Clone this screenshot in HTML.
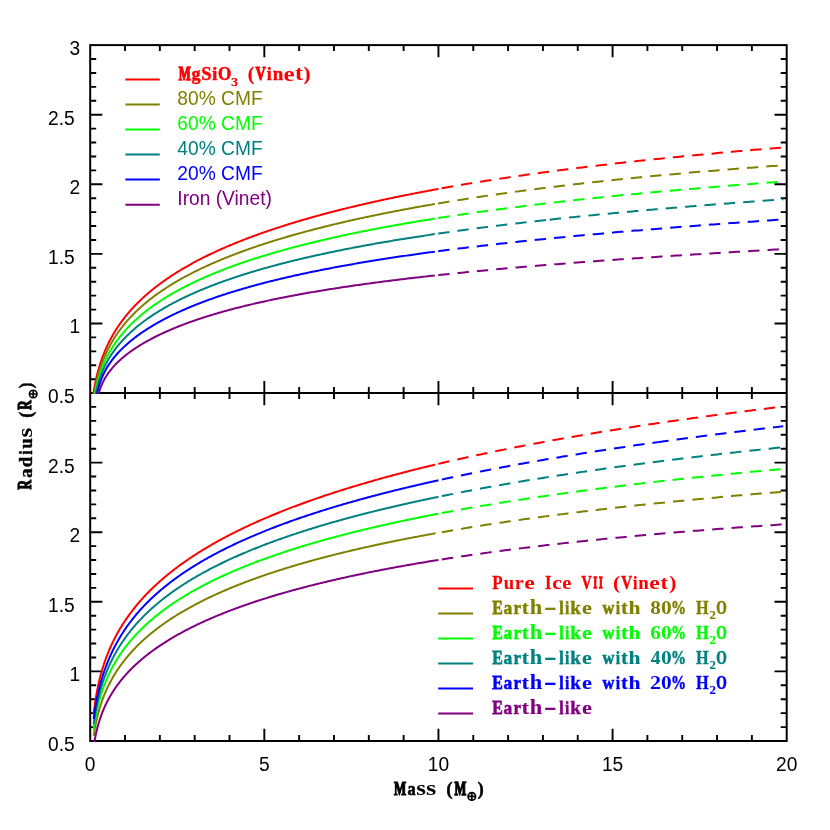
<!DOCTYPE html>
<html><head><meta charset="utf-8"><title>Mass-Radius</title>
<style>html,body{margin:0;padding:0;background:#fff}svg{display:block;will-change:transform}svg{font-family:"Liberation Sans",sans-serif}.h{font-family:"Liberation Sans",sans-serif;font-size:19.2px}.s{font-family:"Liberation Serif",serif;font-weight:bold;font-size:19.2px}.b{font-family:"Liberation Sans",sans-serif;font-weight:bold;font-size:17.6px}</style></head><body>
<svg width="830" height="830" viewBox="0 0 830 830">
<rect x="0" y="0" width="830" height="830" fill="#ffffff"/>
<defs><clipPath id="ct"><rect x="90.20" y="45.10" width="696.50" height="349.00"/></clipPath>
<clipPath id="cb"><rect x="90.20" y="393.10" width="696.50" height="348.90"/></clipPath></defs>
<g fill="none" stroke="#000" stroke-width="2.00">
<rect x="90.20" y="45.10" width="696.50" height="695.90"/>
<path d="M90.20 393.10L786.70 393.10"/>
<path stroke-width="1.9" d="M125.03 45.10L125.03 51.10 M125.03 387.10L125.03 399.10 M125.03 735.00L125.03 741.00 M159.85 45.10L159.85 51.10 M159.85 387.10L159.85 399.10 M159.85 735.00L159.85 741.00 M194.68 45.10L194.68 51.10 M194.68 387.10L194.68 399.10 M194.68 735.00L194.68 741.00 M229.50 45.10L229.50 51.10 M229.50 387.10L229.50 399.10 M229.50 735.00L229.50 741.00 M264.32 45.10L264.32 57.30 M264.32 380.90L264.32 405.30 M264.32 728.80L264.32 741.00 M299.15 45.10L299.15 51.10 M299.15 387.10L299.15 399.10 M299.15 735.00L299.15 741.00 M333.98 45.10L333.98 51.10 M333.98 387.10L333.98 399.10 M333.98 735.00L333.98 741.00 M368.80 45.10L368.80 51.10 M368.80 387.10L368.80 399.10 M368.80 735.00L368.80 741.00 M403.62 45.10L403.62 51.10 M403.62 387.10L403.62 399.10 M403.62 735.00L403.62 741.00 M438.45 45.10L438.45 57.30 M438.45 380.90L438.45 405.30 M438.45 728.80L438.45 741.00 M473.28 45.10L473.28 51.10 M473.28 387.10L473.28 399.10 M473.28 735.00L473.28 741.00 M508.10 45.10L508.10 51.10 M508.10 387.10L508.10 399.10 M508.10 735.00L508.10 741.00 M542.93 45.10L542.93 51.10 M542.93 387.10L542.93 399.10 M542.93 735.00L542.93 741.00 M577.75 45.10L577.75 51.10 M577.75 387.10L577.75 399.10 M577.75 735.00L577.75 741.00 M612.58 45.10L612.58 57.30 M612.58 380.90L612.58 405.30 M612.58 728.80L612.58 741.00 M647.40 45.10L647.40 51.10 M647.40 387.10L647.40 399.10 M647.40 735.00L647.40 741.00 M682.23 45.10L682.23 51.10 M682.23 387.10L682.23 399.10 M682.23 735.00L682.23 741.00 M717.05 45.10L717.05 51.10 M717.05 387.10L717.05 399.10 M717.05 735.00L717.05 741.00 M751.88 45.10L751.88 51.10 M751.88 387.10L751.88 399.10 M751.88 735.00L751.88 741.00 M90.20 379.18L96.20 379.18 M780.70 379.18L786.70 379.18 M90.20 365.26L96.20 365.26 M780.70 365.26L786.70 365.26 M90.20 351.34L96.20 351.34 M780.70 351.34L786.70 351.34 M90.20 337.42L96.20 337.42 M780.70 337.42L786.70 337.42 M90.20 323.50L102.40 323.50 M774.50 323.50L786.70 323.50 M90.20 309.58L96.20 309.58 M780.70 309.58L786.70 309.58 M90.20 295.66L96.20 295.66 M780.70 295.66L786.70 295.66 M90.20 281.74L96.20 281.74 M780.70 281.74L786.70 281.74 M90.20 267.82L96.20 267.82 M780.70 267.82L786.70 267.82 M90.20 253.90L102.40 253.90 M774.50 253.90L786.70 253.90 M90.20 239.98L96.20 239.98 M780.70 239.98L786.70 239.98 M90.20 226.06L96.20 226.06 M780.70 226.06L786.70 226.06 M90.20 212.14L96.20 212.14 M780.70 212.14L786.70 212.14 M90.20 198.22L96.20 198.22 M780.70 198.22L786.70 198.22 M90.20 184.30L102.40 184.30 M774.50 184.30L786.70 184.30 M90.20 170.38L96.20 170.38 M780.70 170.38L786.70 170.38 M90.20 156.46L96.20 156.46 M780.70 156.46L786.70 156.46 M90.20 142.54L96.20 142.54 M780.70 142.54L786.70 142.54 M90.20 128.62L96.20 128.62 M780.70 128.62L786.70 128.62 M90.20 114.70L102.40 114.70 M774.50 114.70L786.70 114.70 M90.20 100.78L96.20 100.78 M780.70 100.78L786.70 100.78 M90.20 86.86L96.20 86.86 M780.70 86.86L786.70 86.86 M90.20 72.94L96.20 72.94 M780.70 72.94L786.70 72.94 M90.20 59.02L96.20 59.02 M780.70 59.02L786.70 59.02 M90.20 727.08L96.20 727.08 M780.70 727.08L786.70 727.08 M90.20 713.16L96.20 713.16 M780.70 713.16L786.70 713.16 M90.20 699.24L96.20 699.24 M780.70 699.24L786.70 699.24 M90.20 685.32L96.20 685.32 M780.70 685.32L786.70 685.32 M90.20 671.40L102.40 671.40 M774.50 671.40L786.70 671.40 M90.20 657.48L96.20 657.48 M780.70 657.48L786.70 657.48 M90.20 643.56L96.20 643.56 M780.70 643.56L786.70 643.56 M90.20 629.64L96.20 629.64 M780.70 629.64L786.70 629.64 M90.20 615.72L96.20 615.72 M780.70 615.72L786.70 615.72 M90.20 601.80L102.40 601.80 M774.50 601.80L786.70 601.80 M90.20 587.88L96.20 587.88 M780.70 587.88L786.70 587.88 M90.20 573.96L96.20 573.96 M780.70 573.96L786.70 573.96 M90.20 560.04L96.20 560.04 M780.70 560.04L786.70 560.04 M90.20 546.12L96.20 546.12 M780.70 546.12L786.70 546.12 M90.20 532.20L102.40 532.20 M774.50 532.20L786.70 532.20 M90.20 518.28L96.20 518.28 M780.70 518.28L786.70 518.28 M90.20 504.36L96.20 504.36 M780.70 504.36L786.70 504.36 M90.20 490.44L96.20 490.44 M780.70 490.44L786.70 490.44 M90.20 476.52L96.20 476.52 M780.70 476.52L786.70 476.52 M90.20 462.60L102.40 462.60 M774.50 462.60L786.70 462.60 M90.20 448.68L96.20 448.68 M780.70 448.68L786.70 448.68 M90.20 434.76L96.20 434.76 M780.70 434.76L786.70 434.76 M90.20 420.84L96.20 420.84 M780.70 420.84L786.70 420.84 M90.20 406.92L96.20 406.92 M780.70 406.92L786.70 406.92"/>
</g>
<g fill="none" stroke-width="2" stroke-linejoin="round" clip-path="url(#ct)">
<path stroke="#ff0000" d="M91.94 404.30 L91.94 404.29 L91.95 404.23 L91.96 404.13 L91.98 404.00 L92.00 403.83 L92.02 403.63 L92.05 403.39 L92.08 403.11 L92.12 402.80 L92.16 402.45 L92.20 402.08 L92.25 401.67 L92.31 401.23 L92.37 400.76 L92.43 400.27 L92.50 399.74 L92.57 399.19 L92.65 398.62 L92.73 398.03 L92.81 397.41 L92.90 396.77 L93.00 396.11 L93.09 395.44 L93.20 394.74 L93.30 394.04 L93.41 393.31 L93.53 392.58 L93.65 391.83 L93.77 391.07 L93.90 390.29 L94.03 389.51 L94.17 388.72 L94.31 387.92 L94.46 387.12 L94.61 386.30 L94.76 385.49 L94.92 384.66 L95.09 383.83 L95.25 383.00 L95.43 382.16 L95.60 381.32 L95.78 380.48 L95.97 379.63 L96.16 378.78 L96.35 377.93 L96.55 377.08 L96.75 376.23 L96.96 375.38 L97.17 374.53 L97.38 373.67 L97.60 372.82 L97.83 371.97 L98.06 371.12 L98.29 370.27 L98.53 369.42 L98.77 368.57 L99.02 367.72 L99.27 366.87 L99.52 366.03 L99.78 365.19 L100.04 364.34 L100.31 363.51 L100.58 362.67 L100.86 361.83 L101.14 361.00 L101.43 360.17 L101.72 359.34 L102.01 358.52 L102.31 357.69 L102.61 356.87 L102.92 356.05 L103.23 355.24 L103.55 354.42 L103.87 353.61 L104.19 352.81 L104.52 352.00 L104.85 351.20 L105.19 350.40 L105.53 349.60 L105.88 348.81 L106.23 348.01 L106.58 347.23 L106.94 346.44 L107.31 345.66 L107.67 344.88 L108.05 344.10 L108.42 343.32 L108.80 342.55 L109.19 341.78 L109.58 341.02 L109.97 340.25 L110.37 339.49 L110.77 338.73 L111.18 337.98 L111.59 337.23 L112.01 336.48 L112.43 335.73 L112.85 334.99 L113.28 334.24 L113.72 333.51 L114.15 332.77 L114.60 332.04 L115.04 331.31 L115.49 330.58 L115.95 329.85 L116.41 329.13 L116.87 328.41 L117.34 327.69 L117.81 326.98 L118.29 326.27 L118.77 325.56 L119.26 324.85 L119.75 324.15 L120.24 323.44 L120.74 322.74 L121.24 322.05 L121.75 321.35 L122.26 320.66 L122.78 319.97 L123.30 319.29 L123.82 318.60 L124.35 317.92 L124.88 317.24 L125.42 316.56 L125.96 315.89 L126.51 315.21 L127.06 314.54 L127.62 313.88 L128.18 313.21 L128.74 312.55 L129.31 311.89 L129.88 311.23 L130.46 310.57 L131.04 309.92 L131.63 309.26 L132.22 308.61 L132.81 307.97 L133.41 307.32 L134.01 306.68 L134.62 306.04 L135.23 305.40 L135.85 304.76 L136.47 304.13 L137.09 303.49 L137.72 302.86 L138.36 302.23 L138.99 301.61 L139.64 300.98 L140.28 300.36 L140.93 299.74 L141.59 299.12 L142.25 298.51 L142.91 297.89 L143.58 297.28 L144.26 296.67 L144.93 296.06 L145.61 295.45 L146.30 294.85 L146.99 294.25 L147.69 293.65 L148.38 293.05 L149.09 292.45 L149.80 291.85 L150.51 291.26 L151.22 290.67 L151.94 290.08 L152.67 289.49 L153.40 288.91 L154.13 288.32 L154.87 287.74 L155.61 287.16 L156.36 286.58 L157.11 286.00 L157.87 285.43 L158.63 284.85 L159.39 284.28 L160.16 283.71 L160.93 283.14 L161.71 282.58 L162.49 282.01 L163.28 281.45 L164.07 280.89 L164.86 280.33 L165.66 279.77 L166.47 279.21 L167.27 278.66 L168.09 278.10 L168.90 277.55 L169.72 277.00 L170.55 276.45 L171.38 275.91 L172.21 275.36 L173.05 274.82 L173.89 274.27 L174.74 273.73 L175.59 273.19 L176.45 272.66 L177.31 272.12 L178.17 271.59 L179.04 271.05 L179.91 270.52 L180.79 269.99 L181.67 269.46 L182.56 268.94 L183.45 268.41 L184.35 267.89 L185.24 267.36 L186.15 266.84 L187.06 266.32 L187.97 265.80 L188.89 265.29 L189.81 264.77 L190.73 264.26 L191.66 263.75 L192.60 263.23 L193.53 262.73 L194.48 262.22 L195.42 261.71 L196.38 261.21 L197.33 260.70 L198.29 260.20 L199.26 259.70 L200.23 259.20 L201.20 258.70 L202.18 258.20 L203.16 257.71 L204.15 257.21 L205.14 256.72 L206.13 256.23 L207.13 255.74 L208.13 255.25 L209.14 254.76 L210.16 254.27 L211.17 253.79 L212.19 253.30 L213.22 252.82 L214.25 252.34 L215.28 251.86 L216.32 251.38 L217.36 250.91 L218.41 250.43 L219.46 249.95 L220.52 249.48 L221.58 249.01 L222.65 248.54 L223.71 248.07 L224.79 247.60 L225.87 247.13 L226.95 246.67 L228.03 246.20 L229.13 245.74 L230.22 245.28 L231.32 244.82 L232.42 244.36 L233.53 243.90 L234.65 243.44 L235.76 242.98 L236.88 242.53 L238.01 242.07 L239.14 241.62 L240.27 241.17 L241.41 240.72 L242.56 240.27 L243.70 239.82 L244.86 239.38 L246.01 238.93 L247.17 238.49 L248.34 238.04 L249.51 237.60 L250.68 237.16 L251.86 236.72 L253.04 236.28 L254.23 235.84 L255.42 235.41 L256.61 234.97 L257.81 234.54 L259.02 234.11 L260.23 233.67 L261.44 233.24 L262.66 232.81 L263.88 232.39 L265.10 231.96 L266.33 231.53 L267.57 231.11 L268.81 230.68 L270.05 230.26 L271.30 229.84 L272.55 229.42 L273.81 229.00 L275.07 228.58 L276.33 228.16 L277.60 227.75 L278.88 227.33 L280.15 226.92 L281.44 226.50 L282.72 226.09 L284.02 225.68 L285.31 225.27 L286.61 224.86 L287.92 224.45 L289.22 224.05 L290.54 223.64 L291.85 223.24 L293.18 222.83 L294.50 222.43 L295.83 222.03 L297.17 221.63 L298.51 221.23 L299.85 220.83 L301.20 220.43 L302.55 220.03 L303.91 219.64 L305.27 219.24 L306.63 218.85 L308.00 218.46 L309.38 218.07 L310.76 217.68 L312.14 217.29 L313.52 216.90 L314.92 216.51 L316.31 216.13 L317.71 215.74 L319.12 215.36 L320.53 214.97 L321.94 214.59 L323.36 214.21 L324.78 213.83 L326.20 213.45 L327.64 213.07 L329.07 212.69 L330.51 212.32 L331.95 211.94 L333.40 211.57 L334.85 211.19 L336.31 210.82 L337.77 210.45 L339.24 210.08 L340.71 209.71 L342.18 209.34 L343.66 208.97 L345.14 208.60 L346.63 208.24 L348.12 207.87 L349.62 207.51 L351.12 207.15 L352.62 206.78 L354.13 206.42 L355.64 206.06 L357.16 205.70 L358.68 205.34 L360.21 204.99 L361.74 204.63 L363.28 204.27 L364.82 203.92 L366.36 203.57 L367.91 203.21 L369.46 202.86 L371.02 202.51 L372.58 202.16 L374.14 201.81 L375.71 201.46 L377.29 201.12 L378.87 200.77 L380.45 200.42 L382.04 200.08 L383.63 199.73 L385.23 199.39 L386.83 199.05 L388.43 198.71 L390.04 198.37 L391.65 198.03 L393.27 197.69 L394.89 197.35 L396.52 197.02 L398.15 196.68 L399.79 196.35 L401.43 196.01 L403.07 195.68 L404.72 195.35 L406.37 195.02 L408.03 194.68 L409.69 194.36 L411.36 194.03 L413.03 193.70 L414.70 193.37 L416.38 193.05 L418.06 192.72 L419.75 192.40 L421.44 192.07 L423.14 191.75 L424.84 191.43 L426.54 191.11 L428.25 190.79 L429.97 190.47 L431.68 190.15 L433.41 189.83 L435.13 189.51 L436.86 189.20 L438.60 188.88"/>
<path stroke="#ff0000" stroke-dasharray="11.4 8.03" d="M441.80 188.31 L444.67 187.79 L447.54 187.29 L450.41 186.78 L453.28 186.28 L456.15 185.79 L459.01 185.30 L461.88 184.81 L464.75 184.33 L467.62 183.85 L470.49 183.37 L473.36 182.90 L476.23 182.43 L479.10 181.97 L481.97 181.51 L484.84 181.05 L487.70 180.60 L490.57 180.15 L493.44 179.70 L496.31 179.26 L499.18 178.82 L502.05 178.38 L504.92 177.95 L507.79 177.52 L510.66 177.09 L513.53 176.67 L516.40 176.25 L519.26 175.83 L522.13 175.42 L525.00 175.01 L527.87 174.60 L530.74 174.20 L533.61 173.80 L536.48 173.40 L539.35 173.00 L542.22 172.61 L545.09 172.22 L547.96 171.83 L550.82 171.45 L553.69 171.07 L556.56 170.69 L559.43 170.31 L562.30 169.94 L565.17 169.57 L568.04 169.20 L570.91 168.84 L573.78 168.47 L576.65 168.11 L579.51 167.76 L582.38 167.40 L585.25 167.05 L588.12 166.70 L590.99 166.35 L593.86 166.00 L596.73 165.66 L599.60 165.32 L602.47 164.98 L605.34 164.65 L608.21 164.31 L611.07 163.98 L613.94 163.65 L616.81 163.32 L619.68 163.00 L622.55 162.68 L625.42 162.35 L628.29 162.04 L631.16 161.72 L634.03 161.40 L636.90 161.09 L639.76 160.78 L642.63 160.47 L645.50 160.17 L648.37 159.86 L651.24 159.56 L654.11 159.26 L656.98 158.96 L659.85 158.66 L662.72 158.37 L665.59 158.08 L668.46 157.79 L671.32 157.50 L674.19 157.21 L677.06 156.93 L679.93 156.64 L682.80 156.36 L685.67 156.08 L688.54 155.80 L691.41 155.53 L694.28 155.25 L697.15 154.98 L700.01 154.71 L702.88 154.44 L705.75 154.17 L708.62 153.90 L711.49 153.64 L714.36 153.38 L717.23 153.11 L720.10 152.85 L722.97 152.60 L725.84 152.34 L728.71 152.09 L731.57 151.83 L734.44 151.58 L737.31 151.33 L740.18 151.08 L743.05 150.83 L745.92 150.59 L748.79 150.34 L751.66 150.10 L754.53 149.86 L757.40 149.62 L760.27 149.38 L763.13 149.15 L766.00 148.91 L768.87 148.68 L771.74 148.44 L774.61 148.21 L777.48 147.98 L780.35 147.75 L783.22 147.53"/>
<path stroke="#808000" d="M91.94 409.29 L91.94 409.27 L91.95 409.22 L91.96 409.12 L91.98 408.99 L92.00 408.82 L92.02 408.62 L92.05 408.38 L92.08 408.10 L92.12 407.79 L92.16 407.45 L92.20 407.07 L92.25 406.66 L92.31 406.22 L92.36 405.76 L92.43 405.26 L92.49 404.73 L92.56 404.19 L92.64 403.61 L92.72 403.01 L92.80 402.39 L92.89 401.75 L92.98 401.09 L93.08 400.42 L93.18 399.72 L93.29 399.01 L93.40 398.29 L93.51 397.55 L93.63 396.79 L93.75 396.03 L93.88 395.26 L94.01 394.47 L94.15 393.68 L94.29 392.88 L94.43 392.07 L94.58 391.26 L94.73 390.44 L94.89 389.61 L95.05 388.78 L95.22 387.95 L95.39 387.11 L95.56 386.27 L95.74 385.43 L95.92 384.59 L96.11 383.74 L96.30 382.89 L96.50 382.05 L96.70 381.20 L96.90 380.35 L97.11 379.50 L97.33 378.66 L97.54 377.81 L97.76 376.97 L97.99 376.12 L98.22 375.28 L98.46 374.44 L98.70 373.60 L98.94 372.76 L99.19 371.93 L99.44 371.09 L99.69 370.26 L99.95 369.43 L100.22 368.61 L100.49 367.78 L100.76 366.96 L101.04 366.14 L101.32 365.33 L101.61 364.52 L101.90 363.71 L102.19 362.90 L102.49 362.10 L102.80 361.30 L103.11 360.50 L103.42 359.71 L103.73 358.92 L104.06 358.13 L104.38 357.35 L104.71 356.56 L105.04 355.79 L105.38 355.01 L105.72 354.24 L106.07 353.47 L106.42 352.71 L106.78 351.95 L107.14 351.19 L107.50 350.43 L107.87 349.68 L108.24 348.93 L108.62 348.19 L109.00 347.45 L109.39 346.71 L109.78 345.97 L110.17 345.24 L110.57 344.51 L110.97 343.78 L111.38 343.06 L111.79 342.34 L112.20 341.62 L112.62 340.91 L113.05 340.20 L113.48 339.49 L113.91 338.78 L114.35 338.08 L114.79 337.38 L115.23 336.69 L115.68 335.99 L116.14 335.30 L116.60 334.62 L117.06 333.93 L117.53 333.25 L118.00 332.57 L118.48 331.90 L118.96 331.22 L119.44 330.55 L119.93 329.89 L120.42 329.22 L120.92 328.56 L121.42 327.90 L121.93 327.24 L122.44 326.59 L122.95 325.94 L123.47 325.29 L124.00 324.64 L124.52 324.00 L125.06 323.35 L125.59 322.72 L126.13 322.08 L126.68 321.44 L127.23 320.81 L127.78 320.18 L128.34 319.56 L128.90 318.93 L129.47 318.31 L130.04 317.69 L130.61 317.07 L131.19 316.46 L131.77 315.85 L132.36 315.23 L132.95 314.63 L133.55 314.02 L134.15 313.42 L134.76 312.81 L135.37 312.21 L135.98 311.62 L136.60 311.02 L137.22 310.43 L137.85 309.84 L138.48 309.25 L139.11 308.66 L139.75 308.08 L140.40 307.49 L141.05 306.91 L141.70 306.33 L142.36 305.76 L143.02 305.18 L143.68 304.61 L144.35 304.04 L145.03 303.47 L145.70 302.90 L146.39 302.34 L147.07 301.78 L147.77 301.21 L148.46 300.65 L149.16 300.10 L149.87 299.54 L150.57 298.99 L151.29 298.44 L152.00 297.88 L152.73 297.34 L153.45 296.79 L154.18 296.24 L154.92 295.70 L155.65 295.16 L156.40 294.62 L157.14 294.08 L157.90 293.55 L158.65 293.01 L159.41 292.48 L160.18 291.95 L160.95 291.42 L161.72 290.89 L162.50 290.36 L163.28 289.84 L164.06 289.31 L164.85 288.79 L165.65 288.27 L166.45 287.75 L167.25 287.24 L168.06 286.72 L168.87 286.21 L169.69 285.70 L170.51 285.19 L171.33 284.68 L172.16 284.17 L172.99 283.66 L173.83 283.16 L174.67 282.65 L175.52 282.15 L176.37 281.65 L177.23 281.15 L178.09 280.66 L178.95 280.16 L179.82 279.67 L180.69 279.17 L181.57 278.68 L182.45 278.19 L183.33 277.70 L184.22 277.22 L185.12 276.73 L186.01 276.25 L186.92 275.76 L187.82 275.28 L188.73 274.80 L189.65 274.32 L190.57 273.84 L191.49 273.37 L192.42 272.89 L193.35 272.42 L194.29 271.95 L195.23 271.48 L196.18 271.01 L197.13 270.54 L198.08 270.07 L199.04 269.60 L200.00 269.14 L200.97 268.68 L201.94 268.21 L202.92 267.75 L203.90 267.29 L204.88 266.84 L205.87 266.38 L206.86 265.92 L207.86 265.47 L208.86 265.02 L209.86 264.56 L210.88 264.11 L211.89 263.66 L212.91 263.21 L213.93 262.77 L214.96 262.32 L215.99 261.88 L217.03 261.43 L218.07 260.99 L219.11 260.55 L220.16 260.11 L221.21 259.67 L222.27 259.23 L223.33 258.80 L224.40 258.36 L225.47 257.93 L226.54 257.49 L227.62 257.06 L228.70 256.63 L229.79 256.20 L230.88 255.77 L231.98 255.34 L233.08 254.92 L234.19 254.49 L235.29 254.07 L236.41 253.65 L237.53 253.22 L238.65 252.80 L239.77 252.38 L240.91 251.96 L242.04 251.55 L243.18 251.13 L244.32 250.72 L245.47 250.30 L246.62 249.89 L247.78 249.48 L248.94 249.06 L250.11 248.65 L251.27 248.25 L252.45 247.84 L253.63 247.43 L254.81 247.03 L256.00 246.62 L257.19 246.22 L258.38 245.81 L259.58 245.41 L260.79 245.01 L261.99 244.61 L263.21 244.21 L264.42 243.82 L265.64 243.42 L266.87 243.03 L268.10 242.63 L269.33 242.24 L270.57 241.84 L271.81 241.45 L273.06 241.06 L274.31 240.67 L275.57 240.29 L276.83 239.90 L278.09 239.51 L279.36 239.13 L280.63 238.74 L281.91 238.36 L283.19 237.98 L284.48 237.59 L285.77 237.21 L287.06 236.83 L288.36 236.46 L289.66 236.08 L290.97 235.70 L292.28 235.33 L293.60 234.95 L294.92 234.58 L296.24 234.20 L297.57 233.83 L298.90 233.46 L300.24 233.09 L301.58 232.72 L302.93 232.35 L304.28 231.99 L305.63 231.62 L306.99 231.26 L308.36 230.89 L309.72 230.53 L311.10 230.17 L312.47 229.80 L313.85 229.44 L315.24 229.08 L316.63 228.73 L318.02 228.37 L319.42 228.01 L320.82 227.66 L322.23 227.30 L323.64 226.95 L325.05 226.59 L326.47 226.24 L327.89 225.89 L329.32 225.54 L330.75 225.19 L332.19 224.84 L333.63 224.49 L335.08 224.15 L336.53 223.80 L337.98 223.45 L339.44 223.11 L340.90 222.77 L342.37 222.42 L343.84 222.08 L345.31 221.74 L346.79 221.40 L348.28 221.06 L349.76 220.73 L351.26 220.39 L352.75 220.05 L354.25 219.72 L355.76 219.38 L357.27 219.05 L358.78 218.72 L360.30 218.38 L361.82 218.05 L363.35 217.72 L364.88 217.39 L366.42 217.06 L367.96 216.74 L369.50 216.41 L371.05 216.08 L372.60 215.76 L374.16 215.43 L375.72 215.11 L377.29 214.79 L378.86 214.47 L380.43 214.15 L382.01 213.83 L383.59 213.51 L385.18 213.19 L386.77 212.87 L388.37 212.55 L389.97 212.24 L391.57 211.92 L393.18 211.61 L394.79 211.30 L396.41 210.98 L398.03 210.67 L399.66 210.36 L401.29 210.05 L402.92 209.74 L404.56 209.43 L406.21 209.13 L407.85 208.82 L409.51 208.51 L411.16 208.21 L412.82 207.90 L414.49 207.60 L416.16 207.30 L417.83 207.00 L419.51 206.70 L421.19 206.39 L422.88 206.10 L424.57 205.80 L426.26 205.50 L427.96 205.20 L429.66 204.91 L431.37 204.61 L433.08 204.32 L434.80 204.02"/>
<path stroke="#808000" stroke-dasharray="11.4 8.03" d="M438.20 203.45 L441.10 202.96 L444.00 202.47 L446.90 202.00 L449.80 201.52 L452.70 201.05 L455.60 200.58 L458.50 200.12 L461.39 199.66 L464.29 199.20 L467.19 198.75 L470.09 198.31 L472.99 197.86 L475.89 197.42 L478.79 196.98 L481.69 196.55 L484.59 196.12 L487.49 195.70 L490.39 195.27 L493.29 194.85 L496.19 194.44 L499.09 194.02 L501.98 193.62 L504.88 193.21 L507.78 192.81 L510.68 192.41 L513.58 192.01 L516.48 191.62 L519.38 191.23 L522.28 190.84 L525.18 190.46 L528.08 190.07 L530.98 189.70 L533.88 189.32 L536.78 188.95 L539.68 188.58 L542.58 188.21 L545.47 187.85 L548.37 187.48 L551.27 187.13 L554.17 186.77 L557.07 186.42 L559.97 186.06 L562.87 185.72 L565.77 185.37 L568.67 185.03 L571.57 184.69 L574.47 184.35 L577.37 184.01 L580.27 183.68 L583.17 183.35 L586.06 183.02 L588.96 182.69 L591.86 182.37 L594.76 182.05 L597.66 181.73 L600.56 181.41 L603.46 181.10 L606.36 180.79 L609.26 180.48 L612.16 180.17 L615.06 179.86 L617.96 179.56 L620.86 179.26 L623.76 178.96 L626.65 178.66 L629.55 178.37 L632.45 178.08 L635.35 177.78 L638.25 177.50 L641.15 177.21 L644.05 176.92 L646.95 176.64 L649.85 176.36 L652.75 176.08 L655.65 175.80 L658.55 175.53 L661.45 175.26 L664.35 174.98 L667.25 174.71 L670.14 174.45 L673.04 174.18 L675.94 173.92 L678.84 173.65 L681.74 173.39 L684.64 173.13 L687.54 172.88 L690.44 172.62 L693.34 172.37 L696.24 172.12 L699.14 171.87 L702.04 171.62 L704.94 171.37 L707.84 171.13 L710.73 170.88 L713.63 170.64 L716.53 170.40 L719.43 170.16 L722.33 169.92 L725.23 169.69 L728.13 169.45 L731.03 169.22 L733.93 168.99 L736.83 168.76 L739.73 168.53 L742.63 168.31 L745.53 168.08 L748.43 167.86 L751.33 167.64 L754.22 167.42 L757.12 167.20 L760.02 166.98 L762.92 166.76 L765.82 166.55 L768.72 166.34 L771.62 166.12 L774.52 165.91 L777.42 165.70 L780.32 165.50 L783.22 165.29"/>
<path stroke="#00ff00" d="M91.94 418.69 L91.94 418.66 L91.95 418.57 L91.96 418.43 L91.98 418.23 L92.00 417.97 L92.02 417.66 L92.05 417.29 L92.08 416.88 L92.12 416.42 L92.16 415.91 L92.20 415.36 L92.25 414.77 L92.31 414.15 L92.36 413.49 L92.43 412.80 L92.49 412.08 L92.56 411.33 L92.64 410.56 L92.72 409.77 L92.80 408.96 L92.89 408.14 L92.98 407.29 L93.08 406.44 L93.18 405.58 L93.29 404.71 L93.40 403.83 L93.51 402.94 L93.63 402.05 L93.75 401.15 L93.88 400.26 L94.01 399.36 L94.15 398.46 L94.29 397.56 L94.43 396.66 L94.58 395.76 L94.73 394.86 L94.89 393.97 L95.05 393.07 L95.22 392.18 L95.39 391.30 L95.56 390.42 L95.74 389.54 L95.92 388.66 L96.11 387.79 L96.30 386.93 L96.50 386.06 L96.70 385.21 L96.90 384.35 L97.11 383.50 L97.33 382.66 L97.54 381.82 L97.76 380.98 L97.99 380.15 L98.22 379.33 L98.46 378.51 L98.70 377.69 L98.94 376.88 L99.19 376.07 L99.44 375.27 L99.69 374.47 L99.95 373.68 L100.22 372.89 L100.49 372.11 L100.76 371.32 L101.04 370.55 L101.32 369.78 L101.61 369.01 L101.90 368.24 L102.19 367.48 L102.49 366.73 L102.80 365.98 L103.11 365.23 L103.42 364.48 L103.73 363.74 L104.06 363.01 L104.38 362.27 L104.71 361.54 L105.04 360.82 L105.38 360.10 L105.72 359.38 L106.07 358.66 L106.42 357.95 L106.78 357.24 L107.14 356.54 L107.50 355.83 L107.87 355.14 L108.24 354.44 L108.62 353.75 L109.00 353.06 L109.39 352.37 L109.78 351.69 L110.17 351.01 L110.57 350.33 L110.97 349.66 L111.38 348.98 L111.79 348.32 L112.20 347.65 L112.62 346.99 L113.05 346.33 L113.48 345.67 L113.91 345.01 L114.35 344.36 L114.79 343.71 L115.23 343.06 L115.68 342.42 L116.14 341.78 L116.60 341.14 L117.06 340.50 L117.53 339.87 L118.00 339.23 L118.48 338.60 L118.96 337.98 L119.44 337.35 L119.93 336.73 L120.42 336.11 L120.92 335.49 L121.42 334.88 L121.93 334.26 L122.44 333.65 L122.95 333.04 L123.47 332.44 L124.00 331.83 L124.52 331.23 L125.06 330.63 L125.59 330.03 L126.13 329.44 L126.68 328.84 L127.23 328.25 L127.78 327.66 L128.34 327.07 L128.90 326.49 L129.47 325.90 L130.04 325.32 L130.61 324.74 L131.19 324.16 L131.77 323.59 L132.36 323.02 L132.95 322.44 L133.55 321.87 L134.15 321.31 L134.76 320.74 L135.37 320.18 L135.98 319.61 L136.60 319.05 L137.22 318.49 L137.85 317.94 L138.48 317.38 L139.11 316.83 L139.75 316.28 L140.40 315.73 L141.05 315.18 L141.70 314.64 L142.36 314.09 L143.02 313.55 L143.68 313.01 L144.35 312.47 L145.03 311.93 L145.70 311.40 L146.39 310.86 L147.07 310.33 L147.77 309.80 L148.46 309.27 L149.16 308.74 L149.87 308.22 L150.57 307.69 L151.29 307.17 L152.00 306.65 L152.73 306.13 L153.45 305.61 L154.18 305.10 L154.92 304.58 L155.65 304.07 L156.40 303.56 L157.14 303.05 L157.90 302.54 L158.65 302.04 L159.41 301.53 L160.18 301.03 L160.95 300.53 L161.72 300.03 L162.50 299.53 L163.28 299.03 L164.06 298.54 L164.85 298.04 L165.65 297.55 L166.45 297.06 L167.25 296.57 L168.06 296.08 L168.87 295.59 L169.69 295.11 L170.51 294.62 L171.33 294.14 L172.16 293.66 L172.99 293.18 L173.83 292.70 L174.67 292.23 L175.52 291.75 L176.37 291.28 L177.23 290.80 L178.09 290.33 L178.95 289.86 L179.82 289.39 L180.69 288.93 L181.57 288.46 L182.45 288.00 L183.33 287.53 L184.22 287.07 L185.12 286.61 L186.01 286.15 L186.92 285.70 L187.82 285.24 L188.73 284.79 L189.65 284.33 L190.57 283.88 L191.49 283.43 L192.42 282.98 L193.35 282.53 L194.29 282.08 L195.23 281.64 L196.18 281.19 L197.13 280.75 L198.08 280.31 L199.04 279.87 L200.00 279.43 L200.97 278.99 L201.94 278.55 L202.92 278.12 L203.90 277.68 L204.88 277.25 L205.87 276.82 L206.86 276.39 L207.86 275.96 L208.86 275.53 L209.86 275.10 L210.88 274.68 L211.89 274.25 L212.91 273.83 L213.93 273.41 L214.96 272.99 L215.99 272.57 L217.03 272.15 L218.07 271.73 L219.11 271.31 L220.16 270.90 L221.21 270.48 L222.27 270.07 L223.33 269.66 L224.40 269.25 L225.47 268.84 L226.54 268.43 L227.62 268.03 L228.70 267.62 L229.79 267.22 L230.88 266.81 L231.98 266.41 L233.08 266.01 L234.19 265.61 L235.29 265.21 L236.41 264.81 L237.53 264.41 L238.65 264.02 L239.77 263.62 L240.91 263.23 L242.04 262.84 L243.18 262.45 L244.32 262.06 L245.47 261.67 L246.62 261.28 L247.78 260.89 L248.94 260.51 L250.11 260.12 L251.27 259.74 L252.45 259.36 L253.63 258.97 L254.81 258.59 L256.00 258.21 L257.19 257.84 L258.38 257.46 L259.58 257.08 L260.79 256.71 L261.99 256.33 L263.21 255.96 L264.42 255.59 L265.64 255.21 L266.87 254.84 L268.10 254.48 L269.33 254.11 L270.57 253.74 L271.81 253.37 L273.06 253.01 L274.31 252.64 L275.57 252.28 L276.83 251.92 L278.09 251.56 L279.36 251.20 L280.63 250.84 L281.91 250.48 L283.19 250.12 L284.48 249.77 L285.77 249.41 L287.06 249.06 L288.36 248.70 L289.66 248.35 L290.97 248.00 L292.28 247.65 L293.60 247.30 L294.92 246.95 L296.24 246.60 L297.57 246.26 L298.90 245.91 L300.24 245.57 L301.58 245.22 L302.93 244.88 L304.28 244.54 L305.63 244.20 L306.99 243.86 L308.36 243.52 L309.72 243.18 L311.10 242.84 L312.47 242.51 L313.85 242.17 L315.24 241.84 L316.63 241.50 L318.02 241.17 L319.42 240.84 L320.82 240.51 L322.23 240.18 L323.64 239.85 L325.05 239.52 L326.47 239.19 L327.89 238.86 L329.32 238.54 L330.75 238.21 L332.19 237.89 L333.63 237.57 L335.08 237.24 L336.53 236.92 L337.98 236.60 L339.44 236.28 L340.90 235.96 L342.37 235.64 L343.84 235.33 L345.31 235.01 L346.79 234.70 L348.28 234.38 L349.76 234.07 L351.26 233.75 L352.75 233.44 L354.25 233.13 L355.76 232.82 L357.27 232.51 L358.78 232.20 L360.30 231.89 L361.82 231.59 L363.35 231.28 L364.88 230.98 L366.42 230.67 L367.96 230.37 L369.50 230.06 L371.05 229.76 L372.60 229.46 L374.16 229.16 L375.72 228.86 L377.29 228.56 L378.86 228.26 L380.43 227.97 L382.01 227.67 L383.59 227.37 L385.18 227.08 L386.77 226.78 L388.37 226.49 L389.97 226.20 L391.57 225.91 L393.18 225.61 L394.79 225.32 L396.41 225.03 L398.03 224.75 L399.66 224.46 L401.29 224.17 L402.92 223.88 L404.56 223.60 L406.21 223.31 L407.85 223.03 L409.51 222.74 L411.16 222.46 L412.82 222.18 L414.49 221.90 L416.16 221.62 L417.83 221.34 L419.51 221.06 L421.19 220.78 L422.88 220.50 L424.57 220.23 L426.26 219.95 L427.96 219.67 L429.66 219.40 L431.37 219.12 L433.08 218.85 L434.80 218.58"/>
<path stroke="#00ff00" stroke-dasharray="11.4 8.03" d="M438.20 218.04 L441.10 217.59 L444.00 217.14 L446.90 216.70 L449.80 216.25 L452.70 215.82 L455.60 215.38 L458.50 214.95 L461.39 214.53 L464.29 214.10 L467.19 213.68 L470.09 213.26 L472.99 212.85 L475.89 212.44 L478.79 212.03 L481.69 211.63 L484.59 211.23 L487.49 210.83 L490.39 210.44 L493.29 210.05 L496.19 209.66 L499.09 209.27 L501.98 208.89 L504.88 208.51 L507.78 208.13 L510.68 207.76 L513.58 207.39 L516.48 207.02 L519.38 206.66 L522.28 206.29 L525.18 205.93 L528.08 205.57 L530.98 205.22 L533.88 204.87 L536.78 204.52 L539.68 204.17 L542.58 203.82 L545.47 203.48 L548.37 203.14 L551.27 202.80 L554.17 202.46 L557.07 202.13 L559.97 201.80 L562.87 201.47 L565.77 201.14 L568.67 200.82 L571.57 200.50 L574.47 200.18 L577.37 199.86 L580.27 199.54 L583.17 199.23 L586.06 198.92 L588.96 198.61 L591.86 198.30 L594.76 197.99 L597.66 197.69 L600.56 197.39 L603.46 197.09 L606.36 196.79 L609.26 196.49 L612.16 196.20 L615.06 195.90 L617.96 195.61 L620.86 195.32 L623.76 195.04 L626.65 194.75 L629.55 194.47 L632.45 194.19 L635.35 193.91 L638.25 193.63 L641.15 193.35 L644.05 193.07 L646.95 192.80 L649.85 192.53 L652.75 192.26 L655.65 191.99 L658.55 191.72 L661.45 191.46 L664.35 191.19 L667.25 190.93 L670.14 190.67 L673.04 190.41 L675.94 190.15 L678.84 189.90 L681.74 189.64 L684.64 189.39 L687.54 189.14 L690.44 188.88 L693.34 188.64 L696.24 188.39 L699.14 188.14 L702.04 187.90 L704.94 187.65 L707.84 187.41 L710.73 187.17 L713.63 186.93 L716.53 186.69 L719.43 186.45 L722.33 186.22 L725.23 185.98 L728.13 185.75 L731.03 185.52 L733.93 185.29 L736.83 185.06 L739.73 184.83 L742.63 184.60 L745.53 184.37 L748.43 184.15 L751.33 183.93 L754.22 183.70 L757.12 183.48 L760.02 183.26 L762.92 183.04 L765.82 182.83 L768.72 182.61 L771.62 182.39 L774.52 182.18 L777.42 181.97 L780.32 181.75 L783.22 181.54"/>
<path stroke="#008080" d="M91.94 427.63 L91.94 427.59 L91.95 427.49 L91.96 427.31 L91.98 427.07 L92.00 426.76 L92.02 426.39 L92.05 425.96 L92.08 425.46 L92.12 424.91 L92.16 424.30 L92.20 423.64 L92.25 422.94 L92.31 422.19 L92.36 421.40 L92.43 420.58 L92.49 419.72 L92.56 418.83 L92.64 417.92 L92.72 416.98 L92.80 416.02 L92.89 415.05 L92.98 414.06 L93.08 413.06 L93.18 412.06 L93.29 411.04 L93.40 410.02 L93.51 409.00 L93.63 407.98 L93.75 406.96 L93.88 405.94 L94.01 404.92 L94.15 403.91 L94.29 402.90 L94.43 401.90 L94.58 400.91 L94.73 399.92 L94.89 398.94 L95.05 397.97 L95.22 397.00 L95.39 396.05 L95.56 395.10 L95.74 394.17 L95.92 393.24 L96.11 392.32 L96.30 391.41 L96.50 390.51 L96.70 389.62 L96.90 388.74 L97.11 387.86 L97.33 387.00 L97.54 386.14 L97.76 385.30 L97.99 384.46 L98.22 383.63 L98.46 382.80 L98.70 381.99 L98.94 381.18 L99.19 380.38 L99.44 379.59 L99.69 378.80 L99.95 378.02 L100.22 377.25 L100.49 376.49 L100.76 375.73 L101.04 374.98 L101.32 374.23 L101.61 373.49 L101.90 372.76 L102.19 372.03 L102.49 371.30 L102.80 370.59 L103.11 369.87 L103.42 369.17 L103.73 368.46 L104.06 367.76 L104.38 367.07 L104.71 366.38 L105.04 365.70 L105.38 365.02 L105.72 364.34 L106.07 363.67 L106.42 363.01 L106.78 362.34 L107.14 361.68 L107.50 361.03 L107.87 360.38 L108.24 359.73 L108.62 359.08 L109.00 358.44 L109.39 357.81 L109.78 357.17 L110.17 356.54 L110.57 355.91 L110.97 355.29 L111.38 354.67 L111.79 354.05 L112.20 353.43 L112.62 352.82 L113.05 352.21 L113.48 351.60 L113.91 351.00 L114.35 350.39 L114.79 349.79 L115.23 349.20 L115.68 348.60 L116.14 348.01 L116.60 347.42 L117.06 346.84 L117.53 346.25 L118.00 345.67 L118.48 345.09 L118.96 344.51 L119.44 343.94 L119.93 343.36 L120.42 342.79 L120.92 342.22 L121.42 341.66 L121.93 341.09 L122.44 340.53 L122.95 339.97 L123.47 339.41 L124.00 338.86 L124.52 338.30 L125.06 337.75 L125.59 337.20 L126.13 336.65 L126.68 336.11 L127.23 335.56 L127.78 335.02 L128.34 334.48 L128.90 333.94 L129.47 333.40 L130.04 332.87 L130.61 332.33 L131.19 331.80 L131.77 331.27 L132.36 330.74 L132.95 330.22 L133.55 329.69 L134.15 329.17 L134.76 328.65 L135.37 328.13 L135.98 327.61 L136.60 327.09 L137.22 326.58 L137.85 326.06 L138.48 325.55 L139.11 325.04 L139.75 324.53 L140.40 324.03 L141.05 323.52 L141.70 323.02 L142.36 322.52 L143.02 322.02 L143.68 321.52 L144.35 321.02 L145.03 320.52 L145.70 320.03 L146.39 319.54 L147.07 319.04 L147.77 318.55 L148.46 318.07 L149.16 317.58 L149.87 317.09 L150.57 316.61 L151.29 316.13 L152.00 315.65 L152.73 315.17 L153.45 314.69 L154.18 314.21 L154.92 313.74 L155.65 313.26 L156.40 312.79 L157.14 312.32 L157.90 311.85 L158.65 311.38 L159.41 310.91 L160.18 310.45 L160.95 309.98 L161.72 309.52 L162.50 309.06 L163.28 308.60 L164.06 308.14 L164.85 307.68 L165.65 307.22 L166.45 306.77 L167.25 306.32 L168.06 305.86 L168.87 305.41 L169.69 304.96 L170.51 304.51 L171.33 304.07 L172.16 303.62 L172.99 303.18 L173.83 302.73 L174.67 302.29 L175.52 301.85 L176.37 301.41 L177.23 300.97 L178.09 300.54 L178.95 300.10 L179.82 299.67 L180.69 299.23 L181.57 298.80 L182.45 298.37 L183.33 297.94 L184.22 297.51 L185.12 297.09 L186.01 296.66 L186.92 296.24 L187.82 295.81 L188.73 295.39 L189.65 294.97 L190.57 294.55 L191.49 294.13 L192.42 293.72 L193.35 293.30 L194.29 292.89 L195.23 292.47 L196.18 292.06 L197.13 291.65 L198.08 291.24 L199.04 290.83 L200.00 290.42 L200.97 290.02 L201.94 289.61 L202.92 289.21 L203.90 288.80 L204.88 288.40 L205.87 288.00 L206.86 287.60 L207.86 287.20 L208.86 286.81 L209.86 286.41 L210.88 286.01 L211.89 285.62 L212.91 285.23 L213.93 284.84 L214.96 284.45 L215.99 284.06 L217.03 283.67 L218.07 283.28 L219.11 282.89 L220.16 282.51 L221.21 282.13 L222.27 281.74 L223.33 281.36 L224.40 280.98 L225.47 280.60 L226.54 280.22 L227.62 279.84 L228.70 279.47 L229.79 279.09 L230.88 278.72 L231.98 278.35 L233.08 277.97 L234.19 277.60 L235.29 277.23 L236.41 276.86 L237.53 276.50 L238.65 276.13 L239.77 275.76 L240.91 275.40 L242.04 275.03 L243.18 274.67 L244.32 274.31 L245.47 273.95 L246.62 273.59 L247.78 273.23 L248.94 272.87 L250.11 272.52 L251.27 272.16 L252.45 271.81 L253.63 271.45 L254.81 271.10 L256.00 270.75 L257.19 270.40 L258.38 270.05 L259.58 269.70 L260.79 269.35 L261.99 269.01 L263.21 268.66 L264.42 268.31 L265.64 267.97 L266.87 267.63 L268.10 267.29 L269.33 266.94 L270.57 266.60 L271.81 266.27 L273.06 265.93 L274.31 265.59 L275.57 265.25 L276.83 264.92 L278.09 264.58 L279.36 264.25 L280.63 263.92 L281.91 263.59 L283.19 263.26 L284.48 262.93 L285.77 262.60 L287.06 262.27 L288.36 261.94 L289.66 261.62 L290.97 261.29 L292.28 260.97 L293.60 260.64 L294.92 260.32 L296.24 260.00 L297.57 259.68 L298.90 259.36 L300.24 259.04 L301.58 258.72 L302.93 258.41 L304.28 258.09 L305.63 257.77 L306.99 257.46 L308.36 257.15 L309.72 256.83 L311.10 256.52 L312.47 256.21 L313.85 255.90 L315.24 255.59 L316.63 255.28 L318.02 254.97 L319.42 254.67 L320.82 254.36 L322.23 254.06 L323.64 253.75 L325.05 253.45 L326.47 253.15 L327.89 252.84 L329.32 252.54 L330.75 252.24 L332.19 251.94 L333.63 251.65 L335.08 251.35 L336.53 251.05 L337.98 250.75 L339.44 250.46 L340.90 250.16 L342.37 249.87 L343.84 249.58 L345.31 249.29 L346.79 248.99 L348.28 248.70 L349.76 248.41 L351.26 248.13 L352.75 247.84 L354.25 247.55 L355.76 247.26 L357.27 246.98 L358.78 246.69 L360.30 246.41 L361.82 246.12 L363.35 245.84 L364.88 245.56 L366.42 245.28 L367.96 245.00 L369.50 244.72 L371.05 244.44 L372.60 244.16 L374.16 243.88 L375.72 243.61 L377.29 243.33 L378.86 243.05 L380.43 242.78 L382.01 242.51 L383.59 242.23 L385.18 241.96 L386.77 241.69 L388.37 241.42 L389.97 241.15 L391.57 240.88 L393.18 240.61 L394.79 240.34 L396.41 240.07 L398.03 239.81 L399.66 239.54 L401.29 239.28 L402.92 239.01 L404.56 238.75 L406.21 238.48 L407.85 238.22 L409.51 237.96 L411.16 237.70 L412.82 237.44 L414.49 237.18 L416.16 236.92 L417.83 236.66 L419.51 236.40 L421.19 236.14 L422.88 235.89 L424.57 235.63 L426.26 235.38 L427.96 235.12 L429.66 234.87 L431.37 234.61 L433.08 234.36 L434.80 234.11"/>
<path stroke="#008080" stroke-dasharray="11.4 8.03" d="M438.20 233.61 L439.14 233.48 L440.07 233.34 L441.01 233.21 L441.95 233.07 L442.88 232.94 L443.82 232.81 L444.76 232.67 L445.70 232.54 L446.63 232.41 L447.57 232.28 L448.51 232.14 L449.44 232.01 L450.38 231.88 L451.32 231.75 L452.25 231.62 L453.19 231.49 L454.13 231.36 L455.07 231.23 L456.00 231.10 L456.94 230.97 L457.88 230.84 L458.81 230.71 L459.75 230.59 L460.69 230.46 L461.62 230.33 L462.56 230.20 L463.50 230.08 L464.44 229.95 L465.37 229.83 L466.31 229.70 L467.25 229.57 L468.18 229.45 L469.12 229.33 L470.06 229.20 L470.99 229.08 L471.93 228.95 L472.87 228.83 L473.81 228.71 L474.74 228.58 L475.68 228.46 L476.62 228.34 L477.55 228.22 L478.49 228.10 L479.43 227.97 L480.36 227.85 L481.30 227.73 L482.24 227.61 L483.17 227.49 L484.11 227.37 L485.05 227.25 L485.99 227.13 L486.92 227.02 L487.86 226.90 L488.80 226.78 L489.73 226.66 L490.67 226.54 L491.61 226.43 L492.54 226.31 L493.48 226.19 L494.42 226.07 L495.36 225.96 L496.29 225.84 L497.23 225.73 L498.17 225.61 L499.10 225.50 L500.04 225.38 L500.98 225.27 L501.91 225.15 L502.85 225.04 L503.79 224.92 L504.73 224.81 L505.66 224.70 L506.60 224.58 L507.54 224.47 L508.47 224.36 L509.41 224.25 L510.35 224.13 L511.28 224.02 L512.22 223.91 L513.16 223.80 L514.09 223.69 L515.03 223.58 L515.97 223.47 L516.91 223.36 L517.84 223.25 L518.78 223.14 L519.72 223.03 L520.65 222.92 L521.59 222.81 L522.53 222.70 L523.46 222.59 L524.40 222.49 L525.34 222.38 L526.28 222.27 L527.21 222.16 L528.15 222.06 L529.09 221.95 L530.02 221.84 L530.96 221.73 L531.90 221.63 L532.83 221.52 L533.77 221.42 L534.71 221.31 L535.65 221.21 L536.58 221.10 L537.52 221.00 L538.46 220.89 L539.39 220.79 L540.33 220.68 L541.27 220.58 L542.20 220.47 L543.14 220.37 L544.08 220.27 L545.02 220.16 L545.95 220.06 L546.89 219.96 L547.83 219.86 L548.76 219.75 L549.70 219.65"/>
<path stroke="#008080" stroke-dasharray="11.4 8.03" d="M549.70 219.65 L551.66 219.44 L553.62 219.23 L555.59 219.02 L557.55 218.81 L559.51 218.60 L561.47 218.39 L563.44 218.18 L565.40 217.98 L567.36 217.77 L569.32 217.57 L571.29 217.36 L573.25 217.16 L575.21 216.96 L577.17 216.76 L579.13 216.56 L581.10 216.36 L583.06 216.16 L585.02 215.96 L586.98 215.76 L588.95 215.57 L590.91 215.37 L592.87 215.18 L594.83 214.98 L596.80 214.79 L598.76 214.60 L600.72 214.41 L602.68 214.22 L604.65 214.03 L606.61 213.84 L608.57 213.65 L610.53 213.46 L612.49 213.27 L614.46 213.09 L616.42 212.90 L618.38 212.72 L620.34 212.53 L622.31 212.35 L624.27 212.17 L626.23 211.99 L628.19 211.81 L630.16 211.63 L632.12 211.45 L634.08 211.27 L636.04 211.09 L638.00 210.91 L639.97 210.73 L641.93 210.56 L643.89 210.38 L645.85 210.21 L647.82 210.03 L649.78 209.86 L651.74 209.69 L653.70 209.51 L655.67 209.34 L657.63 209.17 L659.59 209.00 L661.55 208.83 L663.52 208.66 L665.48 208.49 L667.44 208.32 L669.40 208.16 L671.36 207.99 L673.33 207.82 L675.29 207.66 L677.25 207.49 L679.21 207.33 L681.18 207.16 L683.14 207.00 L685.10 206.84 L687.06 206.68 L689.03 206.51 L690.99 206.35 L692.95 206.19 L694.91 206.03 L696.87 205.87 L698.84 205.71 L700.80 205.56 L702.76 205.40 L704.72 205.24 L706.69 205.08 L708.65 204.93 L710.61 204.77 L712.57 204.62 L714.54 204.46 L716.50 204.31 L718.46 204.15 L720.42 204.00 L722.39 203.85 L724.35 203.70 L726.31 203.54 L728.27 203.39 L730.23 203.24 L732.20 203.09 L734.16 202.94 L736.12 202.79 L738.08 202.64 L740.05 202.50 L742.01 202.35 L743.97 202.20 L745.93 202.05 L747.90 201.91 L749.86 201.76 L751.82 201.62 L753.78 201.47 L755.74 201.33 L757.71 201.18 L759.67 201.04 L761.63 200.90 L763.59 200.75 L765.56 200.61 L767.52 200.47 L769.48 200.33 L771.44 200.19 L773.41 200.05 L775.37 199.90 L777.33 199.76 L779.29 199.63 L781.26 199.49 L783.22 199.35"/>
<path stroke="#0000ff" d="M91.94 439.96 L91.94 439.92 L91.95 439.81 L91.96 439.62 L91.98 439.35 L92.00 439.01 L92.02 438.60 L92.05 438.11 L92.08 437.55 L92.12 436.93 L92.16 436.24 L92.20 435.49 L92.25 434.68 L92.31 433.82 L92.36 432.90 L92.43 431.93 L92.49 430.92 L92.56 429.87 L92.64 428.78 L92.72 427.66 L92.80 426.51 L92.89 425.34 L92.98 424.15 L93.08 422.94 L93.18 421.71 L93.29 420.48 L93.40 419.24 L93.51 418.00 L93.63 416.76 L93.75 415.52 L93.88 414.28 L94.01 413.06 L94.15 411.84 L94.29 410.63 L94.43 409.43 L94.58 408.25 L94.73 407.07 L94.89 405.92 L95.05 404.78 L95.22 403.65 L95.39 402.54 L95.56 401.45 L95.74 400.38 L95.92 399.32 L96.11 398.28 L96.30 397.26 L96.50 396.26 L96.70 395.27 L96.90 394.29 L97.11 393.34 L97.33 392.40 L97.54 391.48 L97.76 390.57 L97.99 389.67 L98.22 388.79 L98.46 387.93 L98.70 387.08 L98.94 386.24 L99.19 385.42 L99.44 384.61 L99.69 383.81 L99.95 383.02 L100.22 382.24 L100.49 381.48 L100.76 380.72 L101.04 379.98 L101.32 379.25 L101.61 378.52 L101.90 377.81 L102.19 377.10 L102.49 376.40 L102.80 375.71 L103.11 375.03 L103.42 374.36 L103.73 373.69 L104.06 373.03 L104.38 372.38 L104.71 371.73 L105.04 371.09 L105.38 370.46 L105.72 369.83 L106.07 369.21 L106.42 368.59 L106.78 367.98 L107.14 367.37 L107.50 366.77 L107.87 366.18 L108.24 365.58 L108.62 365.00 L109.00 364.41 L109.39 363.83 L109.78 363.26 L110.17 362.69 L110.57 362.12 L110.97 361.56 L111.38 361.00 L111.79 360.44 L112.20 359.89 L112.62 359.34 L113.05 358.79 L113.48 358.24 L113.91 357.70 L114.35 357.16 L114.79 356.63 L115.23 356.09 L115.68 355.56 L116.14 355.04 L116.60 354.51 L117.06 353.99 L117.53 353.47 L118.00 352.95 L118.48 352.43 L118.96 351.92 L119.44 351.40 L119.93 350.89 L120.42 350.39 L120.92 349.88 L121.42 349.38 L121.93 348.87 L122.44 348.37 L122.95 347.87 L123.47 347.38 L124.00 346.88 L124.52 346.39 L125.06 345.90 L125.59 345.41 L126.13 344.92 L126.68 344.43 L127.23 343.95 L127.78 343.46 L128.34 342.98 L128.90 342.50 L129.47 342.02 L130.04 341.54 L130.61 341.07 L131.19 340.59 L131.77 340.12 L132.36 339.65 L132.95 339.18 L133.55 338.71 L134.15 338.24 L134.76 337.77 L135.37 337.31 L135.98 336.84 L136.60 336.38 L137.22 335.92 L137.85 335.46 L138.48 335.00 L139.11 334.54 L139.75 334.09 L140.40 333.63 L141.05 333.18 L141.70 332.73 L142.36 332.27 L143.02 331.82 L143.68 331.38 L144.35 330.93 L145.03 330.48 L145.70 330.04 L146.39 329.59 L147.07 329.15 L147.77 328.71 L148.46 328.27 L149.16 327.83 L149.87 327.39 L150.57 326.95 L151.29 326.52 L152.00 326.08 L152.73 325.65 L153.45 325.21 L154.18 324.78 L154.92 324.35 L155.65 323.92 L156.40 323.50 L157.14 323.07 L157.90 322.64 L158.65 322.22 L159.41 321.80 L160.18 321.37 L160.95 320.95 L161.72 320.53 L162.50 320.11 L163.28 319.69 L164.06 319.28 L164.85 318.86 L165.65 318.45 L166.45 318.03 L167.25 317.62 L168.06 317.21 L168.87 316.80 L169.69 316.39 L170.51 315.98 L171.33 315.57 L172.16 315.17 L172.99 314.76 L173.83 314.36 L174.67 313.96 L175.52 313.56 L176.37 313.15 L177.23 312.75 L178.09 312.36 L178.95 311.96 L179.82 311.56 L180.69 311.17 L181.57 310.77 L182.45 310.38 L183.33 309.99 L184.22 309.60 L185.12 309.21 L186.01 308.82 L186.92 308.43 L187.82 308.04 L188.73 307.66 L189.65 307.27 L190.57 306.89 L191.49 306.51 L192.42 306.12 L193.35 305.74 L194.29 305.36 L195.23 304.99 L196.18 304.61 L197.13 304.23 L198.08 303.86 L199.04 303.48 L200.00 303.11 L200.97 302.74 L201.94 302.37 L202.92 302.00 L203.90 301.63 L204.88 301.26 L205.87 300.89 L206.86 300.52 L207.86 300.16 L208.86 299.80 L209.86 299.43 L210.88 299.07 L211.89 298.71 L212.91 298.35 L213.93 297.99 L214.96 297.63 L215.99 297.27 L217.03 296.92 L218.07 296.56 L219.11 296.21 L220.16 295.86 L221.21 295.50 L222.27 295.15 L223.33 294.80 L224.40 294.45 L225.47 294.11 L226.54 293.76 L227.62 293.41 L228.70 293.07 L229.79 292.72 L230.88 292.38 L231.98 292.04 L233.08 291.70 L234.19 291.36 L235.29 291.02 L236.41 290.68 L237.53 290.34 L238.65 290.01 L239.77 289.67 L240.91 289.34 L242.04 289.00 L243.18 288.67 L244.32 288.34 L245.47 288.01 L246.62 287.68 L247.78 287.35 L248.94 287.02 L250.11 286.69 L251.27 286.37 L252.45 286.04 L253.63 285.72 L254.81 285.40 L256.00 285.07 L257.19 284.75 L258.38 284.43 L259.58 284.11 L260.79 283.79 L261.99 283.48 L263.21 283.16 L264.42 282.84 L265.64 282.53 L266.87 282.22 L268.10 281.90 L269.33 281.59 L270.57 281.28 L271.81 280.97 L273.06 280.66 L274.31 280.35 L275.57 280.04 L276.83 279.74 L278.09 279.43 L279.36 279.12 L280.63 278.82 L281.91 278.52 L283.19 278.21 L284.48 277.91 L285.77 277.61 L287.06 277.31 L288.36 277.01 L289.66 276.72 L290.97 276.42 L292.28 276.12 L293.60 275.83 L294.92 275.53 L296.24 275.24 L297.57 274.94 L298.90 274.65 L300.24 274.36 L301.58 274.07 L302.93 273.78 L304.28 273.49 L305.63 273.20 L306.99 272.92 L308.36 272.63 L309.72 272.34 L311.10 272.06 L312.47 271.78 L313.85 271.49 L315.24 271.21 L316.63 270.93 L318.02 270.65 L319.42 270.37 L320.82 270.09 L322.23 269.81 L323.64 269.53 L325.05 269.26 L326.47 268.98 L327.89 268.70 L329.32 268.43 L330.75 268.16 L332.19 267.88 L333.63 267.61 L335.08 267.34 L336.53 267.07 L337.98 266.80 L339.44 266.53 L340.90 266.26 L342.37 265.99 L343.84 265.73 L345.31 265.46 L346.79 265.20 L348.28 264.93 L349.76 264.67 L351.26 264.40 L352.75 264.14 L354.25 263.88 L355.76 263.62 L357.27 263.36 L358.78 263.10 L360.30 262.84 L361.82 262.58 L363.35 262.33 L364.88 262.07 L366.42 261.81 L367.96 261.56 L369.50 261.30 L371.05 261.05 L372.60 260.80 L374.16 260.54 L375.72 260.29 L377.29 260.04 L378.86 259.79 L380.43 259.54 L382.01 259.29 L383.59 259.04 L385.18 258.79 L386.77 258.55 L388.37 258.30 L389.97 258.06 L391.57 257.81 L393.18 257.57 L394.79 257.32 L396.41 257.08 L398.03 256.84 L399.66 256.59 L401.29 256.35 L402.92 256.11 L404.56 255.87 L406.21 255.63 L407.85 255.39 L409.51 255.16 L411.16 254.92 L412.82 254.68 L414.49 254.45 L416.16 254.21 L417.83 253.98 L419.51 253.74 L421.19 253.51 L422.88 253.27 L424.57 253.04 L426.26 252.81 L427.96 252.58 L429.66 252.35 L431.37 252.12 L433.08 251.89 L434.80 251.66"/>
<path stroke="#0000ff" stroke-dasharray="11.4 8.03" d="M438.20 251.21 L441.10 250.83 L444.00 250.45 L446.90 250.08 L449.80 249.70 L452.70 249.34 L455.60 248.97 L458.50 248.61 L461.39 248.25 L464.29 247.89 L467.19 247.54 L470.09 247.19 L472.99 246.84 L475.89 246.49 L478.79 246.15 L481.69 245.81 L484.59 245.47 L487.49 245.14 L490.39 244.80 L493.29 244.47 L496.19 244.15 L499.09 243.82 L501.98 243.50 L504.88 243.17 L507.78 242.86 L510.68 242.54 L513.58 242.22 L516.48 241.91 L519.38 241.60 L522.28 241.29 L525.18 240.99 L528.08 240.68 L530.98 240.38 L533.88 240.08 L536.78 239.78 L539.68 239.48 L542.58 239.19 L545.47 238.90 L548.37 238.61 L551.27 238.32 L554.17 238.03 L557.07 237.75 L559.97 237.46 L562.87 237.18 L565.77 236.90 L568.67 236.62 L571.57 236.34 L574.47 236.07 L577.37 235.79 L580.27 235.52 L583.17 235.25 L586.06 234.98 L588.96 234.71 L591.86 234.45 L594.76 234.18 L597.66 233.92 L600.56 233.66 L603.46 233.40 L606.36 233.14 L609.26 232.88 L612.16 232.63 L615.06 232.37 L617.96 232.12 L620.86 231.87 L623.76 231.62 L626.65 231.37 L629.55 231.12 L632.45 230.87 L635.35 230.62 L638.25 230.38 L641.15 230.14 L644.05 229.89 L646.95 229.65 L649.85 229.41 L652.75 229.18 L655.65 228.94 L658.55 228.70 L661.45 228.47 L664.35 228.23 L667.25 228.00 L670.14 227.77 L673.04 227.54 L675.94 227.31 L678.84 227.08 L681.74 226.85 L684.64 226.62 L687.54 226.40 L690.44 226.17 L693.34 225.95 L696.24 225.72 L699.14 225.50 L702.04 225.28 L704.94 225.06 L707.84 224.84 L710.73 224.62 L713.63 224.41 L716.53 224.19 L719.43 223.97 L722.33 223.76 L725.23 223.55 L728.13 223.33 L731.03 223.12 L733.93 222.91 L736.83 222.70 L739.73 222.49 L742.63 222.28 L745.53 222.07 L748.43 221.86 L751.33 221.66 L754.22 221.45 L757.12 221.25 L760.02 221.04 L762.92 220.84 L765.82 220.64 L768.72 220.43 L771.62 220.23 L774.52 220.03 L777.42 219.83 L780.32 219.63 L783.22 219.43"/>
<path stroke="#800080" d="M91.94 445.53 L91.94 445.50 L91.95 445.39 L91.96 445.22 L91.98 444.97 L92.00 444.66 L92.02 444.28 L92.05 443.83 L92.08 443.31 L92.12 442.73 L92.16 442.09 L92.20 441.38 L92.25 440.61 L92.31 439.79 L92.36 438.91 L92.43 437.99 L92.49 437.01 L92.56 435.99 L92.64 434.93 L92.72 433.84 L92.80 432.71 L92.89 431.55 L92.98 430.37 L93.08 429.17 L93.18 427.95 L93.29 426.72 L93.40 425.48 L93.51 424.23 L93.63 422.99 L93.75 421.74 L93.88 420.49 L94.01 419.25 L94.15 418.02 L94.29 416.79 L94.43 415.58 L94.58 414.38 L94.73 413.20 L94.89 412.03 L95.05 410.88 L95.22 409.74 L95.39 408.63 L95.56 407.53 L95.74 406.45 L95.92 405.39 L96.11 404.34 L96.30 403.32 L96.50 402.32 L96.70 401.33 L96.90 400.37 L97.11 399.42 L97.33 398.49 L97.54 397.58 L97.76 396.69 L97.99 395.81 L98.22 394.95 L98.46 394.11 L98.70 393.28 L98.94 392.47 L99.19 391.67 L99.44 390.89 L99.69 390.12 L99.95 389.36 L100.22 388.62 L100.49 387.89 L100.76 387.18 L101.04 386.47 L101.32 385.78 L101.61 385.09 L101.90 384.42 L102.19 383.76 L102.49 383.11 L102.80 382.46 L103.11 381.83 L103.42 381.20 L103.73 380.58 L104.06 379.97 L104.38 379.37 L104.71 378.78 L105.04 378.19 L105.38 377.61 L105.72 377.04 L106.07 376.47 L106.42 375.91 L106.78 375.35 L107.14 374.80 L107.50 374.26 L107.87 373.72 L108.24 373.19 L108.62 372.66 L109.00 372.13 L109.39 371.61 L109.78 371.09 L110.17 370.58 L110.57 370.08 L110.97 369.57 L111.38 369.07 L111.79 368.57 L112.20 368.08 L112.62 367.59 L113.05 367.11 L113.48 366.62 L113.91 366.14 L114.35 365.66 L114.79 365.19 L115.23 364.72 L115.68 364.25 L116.14 363.78 L116.60 363.32 L117.06 362.86 L117.53 362.40 L118.00 361.94 L118.48 361.49 L118.96 361.03 L119.44 360.58 L119.93 360.14 L120.42 359.69 L120.92 359.24 L121.42 358.80 L121.93 358.36 L122.44 357.92 L122.95 357.49 L123.47 357.05 L124.00 356.62 L124.52 356.19 L125.06 355.76 L125.59 355.33 L126.13 354.90 L126.68 354.47 L127.23 354.05 L127.78 353.63 L128.34 353.21 L128.90 352.79 L129.47 352.37 L130.04 351.95 L130.61 351.54 L131.19 351.12 L131.77 350.71 L132.36 350.30 L132.95 349.89 L133.55 349.48 L134.15 349.07 L134.76 348.66 L135.37 348.26 L135.98 347.86 L136.60 347.45 L137.22 347.05 L137.85 346.65 L138.48 346.25 L139.11 345.85 L139.75 345.46 L140.40 345.06 L141.05 344.67 L141.70 344.27 L142.36 343.88 L143.02 343.49 L143.68 343.10 L144.35 342.71 L145.03 342.32 L145.70 341.94 L146.39 341.55 L147.07 341.17 L147.77 340.78 L148.46 340.40 L149.16 340.02 L149.87 339.64 L150.57 339.26 L151.29 338.88 L152.00 338.50 L152.73 338.13 L153.45 337.75 L154.18 337.38 L154.92 337.01 L155.65 336.63 L156.40 336.26 L157.14 335.89 L157.90 335.52 L158.65 335.16 L159.41 334.79 L160.18 334.42 L160.95 334.06 L161.72 333.70 L162.50 333.33 L163.28 332.97 L164.06 332.61 L164.85 332.25 L165.65 331.89 L166.45 331.53 L167.25 331.18 L168.06 330.82 L168.87 330.47 L169.69 330.11 L170.51 329.76 L171.33 329.41 L172.16 329.06 L172.99 328.71 L173.83 328.36 L174.67 328.01 L175.52 327.67 L176.37 327.32 L177.23 326.98 L178.09 326.63 L178.95 326.29 L179.82 325.95 L180.69 325.61 L181.57 325.27 L182.45 324.93 L183.33 324.59 L184.22 324.25 L185.12 323.92 L186.01 323.58 L186.92 323.25 L187.82 322.92 L188.73 322.58 L189.65 322.25 L190.57 321.92 L191.49 321.59 L192.42 321.27 L193.35 320.94 L194.29 320.61 L195.23 320.29 L196.18 319.96 L197.13 319.64 L198.08 319.32 L199.04 319.00 L200.00 318.68 L200.97 318.36 L201.94 318.04 L202.92 317.72 L203.90 317.40 L204.88 317.09 L205.87 316.77 L206.86 316.46 L207.86 316.15 L208.86 315.83 L209.86 315.52 L210.88 315.21 L211.89 314.90 L212.91 314.60 L213.93 314.29 L214.96 313.98 L215.99 313.68 L217.03 313.37 L218.07 313.07 L219.11 312.77 L220.16 312.47 L221.21 312.17 L222.27 311.87 L223.33 311.57 L224.40 311.27 L225.47 310.97 L226.54 310.68 L227.62 310.38 L228.70 310.09 L229.79 309.80 L230.88 309.50 L231.98 309.21 L233.08 308.92 L234.19 308.63 L235.29 308.34 L236.41 308.06 L237.53 307.77 L238.65 307.48 L239.77 307.20 L240.91 306.91 L242.04 306.63 L243.18 306.35 L244.32 306.07 L245.47 305.79 L246.62 305.51 L247.78 305.23 L248.94 304.95 L250.11 304.67 L251.27 304.40 L252.45 304.12 L253.63 303.85 L254.81 303.57 L256.00 303.30 L257.19 303.03 L258.38 302.76 L259.58 302.49 L260.79 302.22 L261.99 301.95 L263.21 301.68 L264.42 301.42 L265.64 301.15 L266.87 300.88 L268.10 300.62 L269.33 300.36 L270.57 300.09 L271.81 299.83 L273.06 299.57 L274.31 299.31 L275.57 299.05 L276.83 298.79 L278.09 298.54 L279.36 298.28 L280.63 298.02 L281.91 297.77 L283.19 297.51 L284.48 297.26 L285.77 297.01 L287.06 296.76 L288.36 296.51 L289.66 296.25 L290.97 296.01 L292.28 295.76 L293.60 295.51 L294.92 295.26 L296.24 295.02 L297.57 294.77 L298.90 294.52 L300.24 294.28 L301.58 294.04 L302.93 293.79 L304.28 293.55 L305.63 293.31 L306.99 293.07 L308.36 292.83 L309.72 292.59 L311.10 292.36 L312.47 292.12 L313.85 291.88 L315.24 291.65 L316.63 291.41 L318.02 291.18 L319.42 290.94 L320.82 290.71 L322.23 290.48 L323.64 290.25 L325.05 290.02 L326.47 289.79 L327.89 289.56 L329.32 289.33 L330.75 289.10 L332.19 288.87 L333.63 288.65 L335.08 288.42 L336.53 288.20 L337.98 287.97 L339.44 287.75 L340.90 287.53 L342.37 287.30 L343.84 287.08 L345.31 286.86 L346.79 286.64 L348.28 286.42 L349.76 286.20 L351.26 285.99 L352.75 285.77 L354.25 285.55 L355.76 285.33 L357.27 285.12 L358.78 284.90 L360.30 284.69 L361.82 284.48 L363.35 284.26 L364.88 284.05 L366.42 283.84 L367.96 283.63 L369.50 283.42 L371.05 283.21 L372.60 283.00 L374.16 282.79 L375.72 282.58 L377.29 282.38 L378.86 282.17 L380.43 281.96 L382.01 281.76 L383.59 281.55 L385.18 281.35 L386.77 281.14 L388.37 280.94 L389.97 280.74 L391.57 280.54 L393.18 280.34 L394.79 280.14 L396.41 279.94 L398.03 279.74 L399.66 279.54 L401.29 279.34 L402.92 279.14 L404.56 278.94 L406.21 278.75 L407.85 278.55 L409.51 278.35 L411.16 278.16 L412.82 277.97 L414.49 277.77 L416.16 277.58 L417.83 277.39 L419.51 277.19 L421.19 277.00 L422.88 276.81 L424.57 276.62 L426.26 276.43 L427.96 276.24 L429.66 276.05 L431.37 275.86 L433.08 275.67 L434.80 275.49"/>
<path stroke="#800080" stroke-dasharray="11.4 8.03" d="M438.20 275.12 L441.10 274.81 L444.00 274.50 L446.90 274.19 L449.80 273.89 L452.70 273.59 L455.60 273.29 L458.50 272.99 L461.39 272.70 L464.29 272.41 L467.19 272.12 L470.09 271.83 L472.99 271.55 L475.89 271.26 L478.79 270.98 L481.69 270.71 L484.59 270.43 L487.49 270.16 L490.39 269.88 L493.29 269.62 L496.19 269.35 L499.09 269.08 L501.98 268.82 L504.88 268.56 L507.78 268.30 L510.68 268.04 L513.58 267.78 L516.48 267.53 L519.38 267.27 L522.28 267.02 L525.18 266.77 L528.08 266.53 L530.98 266.28 L533.88 266.04 L536.78 265.79 L539.68 265.55 L542.58 265.31 L545.47 265.07 L548.37 264.84 L551.27 264.60 L554.17 264.37 L557.07 264.13 L559.97 263.90 L562.87 263.67 L565.77 263.45 L568.67 263.22 L571.57 262.99 L574.47 262.77 L577.37 262.55 L580.27 262.32 L583.17 262.10 L586.06 261.88 L588.96 261.67 L591.86 261.45 L594.76 261.23 L597.66 261.02 L600.56 260.81 L603.46 260.59 L606.36 260.38 L609.26 260.17 L612.16 259.96 L615.06 259.76 L617.96 259.55 L620.86 259.34 L623.76 259.14 L626.65 258.94 L629.55 258.73 L632.45 258.53 L635.35 258.33 L638.25 258.13 L641.15 257.93 L644.05 257.73 L646.95 257.54 L649.85 257.34 L652.75 257.15 L655.65 256.95 L658.55 256.76 L661.45 256.57 L664.35 256.37 L667.25 256.18 L670.14 255.99 L673.04 255.80 L675.94 255.62 L678.84 255.43 L681.74 255.24 L684.64 255.06 L687.54 254.87 L690.44 254.69 L693.34 254.50 L696.24 254.32 L699.14 254.14 L702.04 253.96 L704.94 253.77 L707.84 253.59 L710.73 253.41 L713.63 253.24 L716.53 253.06 L719.43 252.88 L722.33 252.70 L725.23 252.53 L728.13 252.35 L731.03 252.18 L733.93 252.00 L736.83 251.83 L739.73 251.66 L742.63 251.48 L745.53 251.31 L748.43 251.14 L751.33 250.97 L754.22 250.80 L757.12 250.63 L760.02 250.46 L762.92 250.29 L765.82 250.12 L768.72 249.96 L771.62 249.79 L774.52 249.62 L777.42 249.46 L780.32 249.29 L783.22 249.13"/>
</g>
<g fill="none" stroke-width="2" stroke-linejoin="round" clip-path="url(#cb)">
<path stroke="#ff0000" d="M93.68 713.72 L93.68 713.70 L93.69 713.64 L93.70 713.54 L93.72 713.41 L93.74 713.23 L93.76 713.02 L93.79 712.78 L93.82 712.49 L93.86 712.18 L93.90 711.82 L93.94 711.44 L93.99 711.02 L94.05 710.57 L94.10 710.09 L94.17 709.58 L94.23 709.04 L94.30 708.48 L94.38 707.89 L94.46 707.28 L94.54 706.64 L94.63 705.98 L94.72 705.30 L94.82 704.60 L94.92 703.88 L95.02 703.15 L95.13 702.40 L95.25 701.63 L95.36 700.85 L95.49 700.06 L95.61 699.25 L95.74 698.43 L95.88 697.60 L96.02 696.76 L96.16 695.92 L96.31 695.06 L96.46 694.20 L96.62 693.33 L96.78 692.45 L96.95 691.57 L97.11 690.68 L97.29 689.79 L97.47 688.89 L97.65 687.99 L97.84 687.09 L98.03 686.18 L98.22 685.27 L98.42 684.36 L98.63 683.45 L98.83 682.53 L99.05 681.62 L99.26 680.70 L99.48 679.78 L99.71 678.87 L99.94 677.95 L100.17 677.03 L100.41 676.11 L100.65 675.20 L100.90 674.28 L101.15 673.37 L101.41 672.45 L101.66 671.54 L101.93 670.63 L102.20 669.72 L102.47 668.81 L102.75 667.90 L103.03 667.00 L103.31 666.09 L103.60 665.19 L103.90 664.29 L104.19 663.39 L104.50 662.49 L104.80 661.60 L105.11 660.71 L105.43 659.82 L105.75 658.93 L106.07 658.04 L106.40 657.16 L106.73 656.28 L107.07 655.40 L107.41 654.52 L107.76 653.65 L108.11 652.78 L108.46 651.91 L108.82 651.04 L109.18 650.17 L109.55 649.31 L109.92 648.45 L110.29 647.60 L110.67 646.74 L111.06 645.89 L111.45 645.04 L111.84 644.19 L112.24 643.35 L112.64 642.50 L113.04 641.66 L113.45 640.83 L113.87 639.99 L114.28 639.16 L114.71 638.33 L115.13 637.50 L115.57 636.68 L116.00 635.85 L116.44 635.03 L116.88 634.22 L117.33 633.40 L117.79 632.59 L118.24 631.78 L118.70 630.97 L119.17 630.16 L119.64 629.36 L120.11 628.56 L120.59 627.76 L121.07 626.97 L121.56 626.17 L122.05 625.38 L122.55 624.59 L123.05 623.81 L123.55 623.02 L124.06 622.24 L124.57 621.46 L125.09 620.68 L125.61 619.91 L126.14 619.13 L126.67 618.36 L127.20 617.59 L127.74 616.83 L128.28 616.06 L128.83 615.30 L129.38 614.54 L129.94 613.79 L130.50 613.03 L131.06 612.28 L131.63 611.53 L132.20 610.78 L132.78 610.03 L133.36 609.29 L133.95 608.54 L134.54 607.80 L135.13 607.06 L135.73 606.33 L136.33 605.59 L136.94 604.86 L137.55 604.13 L138.17 603.40 L138.79 602.68 L139.41 601.95 L140.04 601.23 L140.67 600.51 L141.31 599.79 L141.95 599.08 L142.60 598.36 L143.25 597.65 L143.90 596.94 L144.56 596.23 L145.22 595.53 L145.89 594.82 L146.56 594.12 L147.24 593.42 L147.92 592.72 L148.60 592.02 L149.29 591.33 L149.98 590.63 L150.68 589.94 L151.38 589.25 L152.09 588.56 L152.80 587.88 L153.51 587.19 L154.23 586.51 L154.95 585.83 L155.68 585.15 L156.41 584.47 L157.15 583.80 L157.89 583.12 L158.63 582.45 L159.38 581.78 L160.13 581.11 L160.89 580.45 L161.65 579.78 L162.42 579.12 L163.19 578.46 L163.96 577.79 L164.74 577.14 L165.52 576.48 L166.31 575.82 L167.10 575.17 L167.90 574.52 L168.70 573.87 L169.50 573.22 L170.31 572.57 L171.12 571.93 L171.94 571.28 L172.76 570.64 L173.59 570.00 L174.42 569.36 L175.25 568.73 L176.09 568.09 L176.94 567.46 L177.78 566.82 L178.63 566.19 L179.49 565.56 L180.35 564.93 L181.22 564.31 L182.08 563.68 L182.96 563.06 L183.83 562.44 L184.72 561.82 L185.60 561.20 L186.49 560.58 L187.39 559.96 L188.29 559.35 L189.19 558.73 L190.10 558.12 L191.01 557.51 L191.92 556.90 L192.84 556.30 L193.77 555.69 L194.70 555.09 L195.63 554.48 L196.57 553.88 L197.51 553.28 L198.46 552.68 L199.41 552.09 L200.36 551.49 L201.32 550.89 L202.28 550.30 L203.25 549.71 L204.22 549.12 L205.20 548.53 L206.18 547.94 L207.16 547.36 L208.15 546.77 L209.15 546.19 L210.14 545.61 L211.14 545.02 L212.15 544.44 L213.16 543.87 L214.18 543.29 L215.20 542.71 L216.22 542.14 L217.25 541.57 L218.28 540.99 L219.31 540.42 L220.35 539.86 L221.40 539.29 L222.45 538.72 L223.50 538.16 L224.56 537.59 L225.62 537.03 L226.69 536.47 L227.76 535.91 L228.83 535.35 L229.91 534.79 L230.99 534.23 L232.08 533.68 L233.17 533.13 L234.27 532.57 L235.37 532.02 L236.48 531.47 L237.58 530.92 L238.70 530.37 L239.82 529.83 L240.94 529.28 L242.06 528.74 L243.19 528.20 L244.33 527.65 L245.47 527.11 L246.61 526.57 L247.76 526.04 L248.91 525.50 L250.07 524.96 L251.23 524.43 L252.39 523.90 L253.56 523.36 L254.74 522.83 L255.91 522.30 L257.10 521.77 L258.28 521.25 L259.47 520.72 L260.67 520.19 L261.87 519.67 L263.07 519.15 L264.28 518.63 L265.49 518.11 L266.71 517.59 L267.93 517.07 L269.15 516.55 L270.38 516.03 L271.61 515.52 L272.85 515.00 L274.09 514.49 L275.34 513.98 L276.59 513.47 L277.85 512.96 L279.10 512.45 L280.37 511.94 L281.64 511.44 L282.91 510.93 L284.18 510.43 L285.47 509.93 L286.75 509.42 L288.04 508.92 L289.33 508.42 L290.63 507.92 L291.93 507.43 L293.24 506.93 L294.55 506.43 L295.87 505.94 L297.18 505.45 L298.51 504.95 L299.84 504.46 L301.17 503.97 L302.50 503.48 L303.85 503.00 L305.19 502.51 L306.54 502.02 L307.89 501.54 L309.25 501.05 L310.61 500.57 L311.98 500.09 L313.35 499.61 L314.73 499.13 L316.11 498.65 L317.49 498.17 L318.88 497.69 L320.27 497.22 L321.67 496.74 L323.07 496.27 L324.47 495.80 L325.88 495.32 L327.29 494.85 L328.71 494.38 L330.13 493.91 L331.56 493.45 L332.99 492.98 L334.43 492.51 L335.87 492.05 L337.31 491.58 L338.76 491.12 L340.21 490.66 L341.67 490.20 L343.13 489.74 L344.59 489.28 L346.06 488.82 L347.54 488.36 L349.01 487.91 L350.50 487.45 L351.98 487.00 L353.47 486.54 L354.97 486.09 L356.47 485.64 L357.97 485.19 L359.48 484.74 L360.99 484.29 L362.51 483.84 L364.03 483.39 L365.56 482.95 L367.09 482.50 L368.62 482.06 L370.16 481.61 L371.70 481.17 L373.25 480.73 L374.80 480.29 L376.35 479.85 L377.91 479.41 L379.48 478.97 L381.04 478.54 L382.62 478.10 L384.19 477.66 L385.77 477.23 L387.36 476.80 L388.95 476.36 L390.54 475.93 L392.14 475.50 L393.74 475.07 L395.35 474.64 L396.96 474.22 L398.58 473.79 L400.20 473.36 L401.82 472.94 L403.45 472.51 L405.08 472.09 L406.72 471.67 L408.36 471.24 L410.00 470.82 L411.65 470.40 L413.31 469.98 L414.97 469.56 L416.63 469.15 L418.30 468.73 L419.97 468.31 L421.64 467.90 L423.32 467.48 L425.01 467.07 L426.69 466.66 L428.39 466.25 L430.08 465.84 L431.78 465.43 L433.49 465.02 L435.20 464.61"/>
<path stroke="#ff0000" stroke-dasharray="11.4 8.03" d="M438.30 463.87 L441.20 463.19 L444.10 462.51 L447.00 461.84 L449.89 461.17 L452.79 460.51 L455.69 459.85 L458.59 459.20 L461.49 458.55 L464.39 457.91 L467.28 457.27 L470.18 456.64 L473.08 456.01 L475.98 455.38 L478.88 454.76 L481.78 454.15 L484.68 453.54 L487.57 452.93 L490.47 452.33 L493.37 451.73 L496.27 451.13 L499.17 450.54 L502.07 449.95 L504.96 449.37 L507.86 448.79 L510.76 448.21 L513.66 447.64 L516.56 447.07 L519.46 446.51 L522.36 445.95 L525.25 445.39 L528.15 444.84 L531.05 444.29 L533.95 443.74 L536.85 443.20 L539.75 442.66 L542.64 442.12 L545.54 441.59 L548.44 441.06 L551.34 440.53 L554.24 440.01 L557.14 439.49 L560.04 438.97 L562.93 438.45 L565.83 437.94 L568.73 437.44 L571.63 436.93 L574.53 436.43 L577.43 435.93 L580.32 435.43 L583.22 434.94 L586.12 434.45 L589.02 433.96 L591.92 433.48 L594.82 433.00 L597.72 432.52 L600.61 432.04 L603.51 431.57 L606.41 431.10 L609.31 430.63 L612.21 430.16 L615.11 429.70 L618.00 429.24 L620.90 428.78 L623.80 428.33 L626.70 427.87 L629.60 427.42 L632.50 426.97 L635.40 426.53 L638.29 426.09 L641.19 425.65 L644.09 425.21 L646.99 424.77 L649.89 424.34 L652.79 423.91 L655.68 423.48 L658.58 423.05 L661.48 422.62 L664.38 422.20 L667.28 421.78 L670.18 421.36 L673.08 420.95 L675.97 420.53 L678.87 420.12 L681.77 419.71 L684.67 419.30 L687.57 418.90 L690.47 418.49 L693.37 418.09 L696.26 417.69 L699.16 417.30 L702.06 416.90 L704.96 416.51 L707.86 416.12 L710.76 415.73 L713.65 415.34 L716.55 414.95 L719.45 414.57 L722.35 414.19 L725.25 413.81 L728.15 413.43 L731.05 413.05 L733.94 412.68 L736.84 412.30 L739.74 411.93 L742.64 411.56 L745.54 411.19 L748.44 410.83 L751.33 410.46 L754.23 410.10 L757.13 409.74 L760.03 409.38 L762.93 409.02 L765.83 408.67 L768.73 408.31 L771.62 407.96 L774.52 407.61 L777.42 407.26 L780.32 406.91 L783.22 406.57"/>
<path stroke="#808000" d="M93.68 735.85 L93.68 735.83 L93.69 735.79 L93.70 735.71 L93.72 735.61 L93.74 735.47 L93.76 735.31 L93.79 735.12 L93.82 734.90 L93.86 734.65 L93.90 734.37 L93.94 734.07 L93.99 733.74 L94.05 733.39 L94.10 733.02 L94.17 732.62 L94.23 732.20 L94.30 731.75 L94.38 731.29 L94.46 730.81 L94.54 730.31 L94.63 729.79 L94.72 729.25 L94.82 728.70 L94.92 728.13 L95.03 727.55 L95.13 726.95 L95.25 726.34 L95.37 725.72 L95.49 725.09 L95.62 724.44 L95.75 723.79 L95.88 723.13 L96.02 722.46 L96.17 721.78 L96.31 721.09 L96.47 720.40 L96.62 719.70 L96.78 718.99 L96.95 718.28 L97.12 717.57 L97.29 716.84 L97.47 716.12 L97.65 715.39 L97.84 714.66 L98.03 713.92 L98.23 713.18 L98.43 712.44 L98.63 711.70 L98.84 710.95 L99.05 710.21 L99.27 709.46 L99.49 708.71 L99.72 707.96 L99.95 707.21 L100.18 706.46 L100.42 705.70 L100.66 704.95 L100.91 704.20 L101.16 703.45 L101.42 702.69 L101.68 701.94 L101.94 701.19 L102.21 700.44 L102.48 699.69 L102.76 698.94 L103.04 698.19 L103.33 697.44 L103.62 696.69 L103.91 695.94 L104.21 695.20 L104.51 694.45 L104.82 693.71 L105.13 692.97 L105.45 692.23 L105.77 691.49 L106.09 690.75 L106.42 690.02 L106.75 689.28 L107.09 688.55 L107.43 687.82 L107.78 687.09 L108.13 686.36 L108.48 685.64 L108.84 684.91 L109.20 684.19 L109.57 683.47 L109.94 682.75 L110.32 682.03 L110.70 681.32 L111.08 680.61 L111.47 679.89 L111.87 679.18 L112.26 678.48 L112.67 677.77 L113.07 677.07 L113.48 676.37 L113.90 675.66 L114.32 674.97 L114.74 674.27 L115.17 673.58 L115.60 672.88 L116.03 672.19 L116.47 671.51 L116.92 670.82 L117.37 670.13 L117.82 669.45 L118.28 668.77 L118.74 668.09 L119.21 667.42 L119.68 666.74 L120.15 666.07 L120.63 665.40 L121.11 664.73 L121.60 664.06 L122.09 663.40 L122.59 662.73 L123.09 662.07 L123.60 661.41 L124.11 660.76 L124.62 660.10 L125.14 659.45 L125.66 658.80 L126.18 658.15 L126.72 657.50 L127.25 656.85 L127.79 656.21 L128.33 655.57 L128.88 654.93 L129.43 654.29 L129.99 653.65 L130.55 653.02 L131.12 652.38 L131.68 651.75 L132.26 651.13 L132.84 650.50 L133.42 649.87 L134.00 649.25 L134.60 648.63 L135.19 648.01 L135.79 647.39 L136.39 646.77 L137.00 646.16 L137.61 645.55 L138.23 644.94 L138.85 644.33 L139.48 643.72 L140.11 643.12 L140.74 642.51 L141.38 641.91 L142.02 641.31 L142.67 640.71 L143.32 640.12 L143.97 639.52 L144.63 638.93 L145.30 638.34 L145.96 637.75 L146.64 637.16 L147.31 636.57 L147.99 635.99 L148.68 635.40 L149.37 634.82 L150.06 634.24 L150.76 633.67 L151.46 633.09 L152.17 632.52 L152.88 631.94 L153.60 631.37 L154.32 630.80 L155.04 630.23 L155.77 629.67 L156.50 629.10 L157.24 628.54 L157.98 627.98 L158.73 627.42 L159.48 626.86 L160.23 626.30 L160.99 625.75 L161.75 625.19 L162.52 624.64 L163.29 624.09 L164.06 623.54 L164.84 623.00 L165.63 622.45 L166.42 621.91 L167.21 621.36 L168.01 620.82 L168.81 620.28 L169.61 619.74 L170.42 619.21 L171.24 618.67 L172.06 618.14 L172.88 617.61 L173.71 617.08 L174.54 616.55 L175.37 616.02 L176.21 615.49 L177.06 614.97 L177.91 614.44 L178.76 613.92 L179.62 613.40 L180.48 612.88 L181.34 612.37 L182.21 611.85 L183.09 611.34 L183.97 610.82 L184.85 610.31 L185.74 609.80 L186.63 609.29 L187.52 608.78 L188.42 608.28 L189.33 607.77 L190.24 607.27 L191.15 606.77 L192.07 606.27 L192.99 605.77 L193.92 605.27 L194.85 604.77 L195.78 604.28 L196.72 603.78 L197.66 603.29 L198.61 602.80 L199.56 602.31 L200.52 601.82 L201.48 601.34 L202.44 600.85 L203.41 600.37 L204.38 599.88 L205.36 599.40 L206.34 598.92 L207.33 598.44 L208.32 597.96 L209.31 597.49 L210.31 597.01 L211.32 596.54 L212.32 596.06 L213.34 595.59 L214.35 595.12 L215.37 594.65 L216.40 594.19 L217.43 593.72 L218.46 593.26 L219.50 592.79 L220.54 592.33 L221.59 591.87 L222.64 591.41 L223.69 590.95 L224.75 590.49 L225.81 590.03 L226.88 589.58 L227.95 589.13 L229.03 588.67 L230.11 588.22 L231.20 587.77 L232.28 587.32 L233.38 586.87 L234.48 586.43 L235.58 585.98 L236.68 585.54 L237.80 585.09 L238.91 584.65 L240.03 584.21 L241.15 583.77 L242.28 583.33 L243.41 582.90 L244.55 582.46 L245.69 582.02 L246.84 581.59 L247.98 581.16 L249.14 580.73 L250.30 580.30 L251.46 579.87 L252.63 579.44 L253.80 579.01 L254.97 578.59 L256.15 578.16 L257.33 577.74 L258.52 577.31 L259.71 576.89 L260.91 576.47 L262.11 576.05 L263.32 575.64 L264.53 575.22 L265.74 574.80 L266.96 574.39 L268.18 573.98 L269.41 573.56 L270.64 573.15 L271.87 572.74 L273.11 572.33 L274.36 571.92 L275.61 571.52 L276.86 571.11 L278.12 570.70 L279.38 570.30 L280.64 569.90 L281.91 569.50 L283.19 569.10 L284.46 568.70 L285.75 568.30 L287.03 567.90 L288.32 567.50 L289.62 567.11 L290.92 566.71 L292.22 566.32 L293.53 565.93 L294.84 565.54 L296.16 565.15 L297.48 564.76 L298.81 564.37 L300.14 563.98 L301.47 563.59 L302.81 563.21 L304.15 562.82 L305.50 562.44 L306.85 562.06 L308.21 561.68 L309.57 561.30 L310.93 560.92 L312.30 560.54 L313.67 560.16 L315.05 559.79 L316.43 559.41 L317.82 559.04 L319.21 558.66 L320.60 558.29 L322.00 557.92 L323.40 557.55 L324.81 557.18 L326.22 556.81 L327.64 556.44 L329.06 556.08 L330.48 555.71 L331.91 555.35 L333.34 554.98 L334.78 554.62 L336.22 554.26 L337.67 553.90 L339.12 553.54 L340.57 553.18 L342.03 552.82 L343.49 552.46 L344.96 552.10 L346.43 551.75 L347.91 551.39 L349.39 551.04 L350.87 550.69 L352.36 550.34 L353.85 549.99 L355.35 549.64 L356.85 549.29 L358.36 548.94 L359.87 548.59 L361.38 548.25 L362.90 547.90 L364.43 547.56 L365.95 547.21 L367.49 546.87 L369.02 546.53 L370.56 546.19 L372.11 545.85 L373.66 545.51 L375.21 545.17 L376.77 544.83 L378.33 544.50 L379.89 544.16 L381.47 543.83 L383.04 543.49 L384.62 543.16 L386.20 542.83 L387.79 542.50 L389.38 542.17 L390.98 541.84 L392.58 541.51 L394.18 541.18 L395.79 540.85 L397.41 540.53 L399.02 540.20 L400.65 539.88 L402.27 539.55 L403.90 539.23 L405.54 538.91 L407.18 538.59 L408.82 538.27 L410.47 537.95 L412.12 537.63 L413.78 537.31 L415.44 536.99 L417.10 536.68 L418.77 536.36 L420.44 536.05 L422.12 535.73 L423.80 535.42 L425.49 535.11 L427.18 534.80 L428.88 534.49 L430.58 534.18 L432.28 533.87 L433.99 533.56 L435.70 533.25"/>
<path stroke="#808000" stroke-dasharray="11.4 8.03" d="M441.90 532.15 L444.77 531.65 L447.64 531.16 L450.50 530.66 L453.37 530.17 L456.24 529.69 L459.11 529.21 L461.98 528.73 L464.85 528.25 L467.71 527.78 L470.58 527.32 L473.45 526.86 L476.32 526.40 L479.19 525.94 L482.06 525.49 L484.92 525.04 L487.79 524.60 L490.66 524.16 L493.53 523.72 L496.40 523.28 L499.26 522.85 L502.13 522.42 L505.00 522.00 L507.87 521.58 L510.74 521.16 L513.61 520.74 L516.47 520.33 L519.34 519.92 L522.21 519.52 L525.08 519.11 L527.95 518.71 L530.81 518.31 L533.68 517.92 L536.55 517.53 L539.42 517.14 L542.29 516.75 L545.16 516.37 L548.02 515.99 L550.89 515.61 L553.76 515.23 L556.63 514.86 L559.50 514.49 L562.37 514.12 L565.23 513.76 L568.10 513.39 L570.97 513.03 L573.84 512.67 L576.71 512.32 L579.57 511.96 L582.44 511.61 L585.31 511.26 L588.18 510.92 L591.05 510.57 L593.92 510.23 L596.78 509.89 L599.65 509.56 L602.52 509.22 L605.39 508.89 L608.26 508.56 L611.12 508.23 L613.99 507.90 L616.86 507.58 L619.73 507.25 L622.60 506.93 L625.47 506.61 L628.33 506.30 L631.20 505.98 L634.07 505.67 L636.94 505.36 L639.81 505.05 L642.68 504.74 L645.54 504.44 L648.41 504.14 L651.28 503.83 L654.15 503.53 L657.02 503.24 L659.88 502.94 L662.75 502.65 L665.62 502.36 L668.49 502.06 L671.36 501.78 L674.23 501.49 L677.09 501.20 L679.96 500.92 L682.83 500.64 L685.70 500.36 L688.57 500.08 L691.43 499.80 L694.30 499.53 L697.17 499.25 L700.04 498.98 L702.91 498.71 L705.78 498.44 L708.64 498.17 L711.51 497.91 L714.38 497.64 L717.25 497.38 L720.12 497.12 L722.99 496.86 L725.85 496.60 L728.72 496.34 L731.59 496.08 L734.46 495.83 L737.33 495.58 L740.19 495.33 L743.06 495.08 L745.93 494.83 L748.80 494.58 L751.67 494.33 L754.54 494.09 L757.40 493.85 L760.27 493.60 L763.14 493.36 L766.01 493.12 L768.88 492.89 L771.74 492.65 L774.61 492.41 L777.48 492.18 L780.35 491.95 L783.22 491.71"/>
<path stroke="#00ff00" d="M93.68 729.45 L93.68 729.43 L93.69 729.38 L93.70 729.29 L93.72 729.18 L93.74 729.03 L93.76 728.85 L93.79 728.63 L93.82 728.39 L93.86 728.11 L93.90 727.80 L93.94 727.47 L93.99 727.11 L94.05 726.72 L94.11 726.30 L94.17 725.86 L94.24 725.39 L94.31 724.90 L94.38 724.39 L94.46 723.85 L94.55 723.30 L94.64 722.73 L94.73 722.13 L94.83 721.52 L94.93 720.90 L95.04 720.26 L95.15 719.60 L95.26 718.93 L95.38 718.25 L95.50 717.55 L95.63 716.85 L95.76 716.13 L95.90 715.40 L96.04 714.67 L96.19 713.93 L96.34 713.17 L96.49 712.42 L96.65 711.65 L96.81 710.88 L96.98 710.10 L97.15 709.32 L97.32 708.54 L97.50 707.75 L97.69 706.95 L97.88 706.16 L98.07 705.36 L98.27 704.56 L98.47 703.75 L98.67 702.95 L98.88 702.14 L99.10 701.33 L99.32 700.52 L99.54 699.71 L99.77 698.90 L100.00 698.09 L100.23 697.27 L100.47 696.46 L100.72 695.65 L100.97 694.84 L101.22 694.03 L101.48 693.22 L101.74 692.41 L102.01 691.60 L102.28 690.79 L102.55 689.98 L102.83 689.18 L103.12 688.37 L103.41 687.57 L103.70 686.77 L103.99 685.97 L104.30 685.17 L104.60 684.37 L104.91 683.57 L105.22 682.78 L105.54 681.99 L105.87 681.20 L106.19 680.41 L106.52 679.62 L106.86 678.84 L107.20 678.06 L107.54 677.28 L107.89 676.50 L108.25 675.72 L108.60 674.95 L108.97 674.18 L109.33 673.41 L109.70 672.64 L110.08 671.87 L110.46 671.11 L110.84 670.35 L111.23 669.59 L111.62 668.83 L112.01 668.08 L112.42 667.33 L112.82 666.58 L113.23 665.83 L113.64 665.08 L114.06 664.34 L114.48 663.60 L114.91 662.86 L115.34 662.12 L115.78 661.39 L116.22 660.66 L116.66 659.93 L117.11 659.20 L117.56 658.48 L118.02 657.75 L118.48 657.03 L118.95 656.31 L119.42 655.60 L119.89 654.88 L120.37 654.17 L120.85 653.46 L121.34 652.75 L121.83 652.05 L122.33 651.34 L122.83 650.64 L123.33 649.94 L123.84 649.25 L124.35 648.55 L124.87 647.86 L125.39 647.17 L125.92 646.48 L126.45 645.80 L126.99 645.11 L127.53 644.43 L128.07 643.75 L128.62 643.07 L129.17 642.40 L129.73 641.72 L130.29 641.05 L130.85 640.38 L131.42 639.72 L132.00 639.05 L132.57 638.39 L133.16 637.73 L133.74 637.07 L134.33 636.41 L134.93 635.75 L135.53 635.10 L136.13 634.45 L136.74 633.80 L137.36 633.15 L137.97 632.51 L138.60 631.86 L139.22 631.22 L139.85 630.58 L140.49 629.94 L141.12 629.31 L141.77 628.67 L142.42 628.04 L143.07 627.41 L143.72 626.78 L144.38 626.16 L145.05 625.53 L145.72 624.91 L146.39 624.29 L147.07 623.67 L147.75 623.05 L148.44 622.44 L149.13 621.82 L149.83 621.21 L150.53 620.60 L151.23 619.99 L151.94 619.39 L152.65 618.78 L153.37 618.18 L154.09 617.58 L154.81 616.98 L155.54 616.38 L156.28 615.79 L157.02 615.19 L157.76 614.60 L158.51 614.01 L159.26 613.42 L160.01 612.83 L160.77 612.24 L161.54 611.66 L162.31 611.08 L163.08 610.50 L163.86 609.92 L164.64 609.34 L165.43 608.76 L166.22 608.19 L167.01 607.62 L167.81 607.05 L168.61 606.48 L169.42 605.91 L170.23 605.34 L171.05 604.78 L171.87 604.21 L172.70 603.65 L173.53 603.09 L174.36 602.53 L175.20 601.98 L176.04 601.42 L176.89 600.87 L177.74 600.32 L178.60 599.77 L179.46 599.22 L180.32 598.67 L181.19 598.12 L182.06 597.58 L182.94 597.03 L183.82 596.49 L184.71 595.95 L185.60 595.41 L186.49 594.88 L187.39 594.34 L188.29 593.81 L189.20 593.27 L190.11 592.74 L191.03 592.21 L191.95 591.68 L192.87 591.16 L193.80 590.63 L194.74 590.11 L195.67 589.58 L196.62 589.06 L197.56 588.54 L198.51 588.02 L199.47 587.50 L200.43 586.99 L201.39 586.47 L202.36 585.96 L203.33 585.45 L204.31 584.94 L205.29 584.43 L206.28 583.92 L207.27 583.42 L208.26 582.91 L209.26 582.41 L210.26 581.90 L211.27 581.40 L212.28 580.90 L213.30 580.41 L214.32 579.91 L215.34 579.41 L216.37 578.92 L217.40 578.43 L218.44 577.93 L219.48 577.44 L220.53 576.95 L221.58 576.47 L222.63 575.98 L223.69 575.49 L224.76 575.01 L225.82 574.53 L226.90 574.05 L227.97 573.56 L229.05 573.09 L230.14 572.61 L231.23 572.13 L232.32 571.66 L233.42 571.18 L234.52 570.71 L235.63 570.24 L236.74 569.77 L237.86 569.30 L238.97 568.83 L240.10 568.36 L241.23 567.90 L242.36 567.43 L243.50 566.97 L244.64 566.51 L245.78 566.05 L246.93 565.59 L248.09 565.13 L249.25 564.67 L250.41 564.21 L251.58 563.76 L252.75 563.31 L253.93 562.85 L255.11 562.40 L256.29 561.95 L257.48 561.50 L258.67 561.05 L259.87 560.61 L261.07 560.16 L262.28 559.72 L263.49 559.27 L264.71 558.83 L265.93 558.39 L267.15 557.95 L268.38 557.51 L269.61 557.07 L270.85 556.64 L272.09 556.20 L273.33 555.77 L274.58 555.33 L275.84 554.90 L277.10 554.47 L278.36 554.04 L279.63 553.61 L280.90 553.18 L282.17 552.75 L283.45 552.33 L284.74 551.90 L286.03 551.48 L287.32 551.06 L288.62 550.64 L289.92 550.21 L291.22 549.79 L292.53 549.38 L293.85 548.96 L295.17 548.54 L296.49 548.13 L297.82 547.71 L299.15 547.30 L300.49 546.89 L301.83 546.48 L303.17 546.07 L304.52 545.66 L305.88 545.25 L307.23 544.84 L308.60 544.44 L309.96 544.03 L311.33 543.63 L312.71 543.22 L314.09 542.82 L315.47 542.42 L316.86 542.02 L318.25 541.62 L319.65 541.22 L321.05 540.83 L322.46 540.43 L323.87 540.04 L325.28 539.64 L326.70 539.25 L328.12 538.86 L329.55 538.46 L330.98 538.07 L332.42 537.69 L333.86 537.30 L335.30 536.91 L336.75 536.52 L338.21 536.14 L339.66 535.75 L341.13 535.37 L342.59 534.99 L344.06 534.61 L345.54 534.23 L347.02 533.85 L348.50 533.47 L349.99 533.09 L351.48 532.71 L352.98 532.34 L354.48 531.96 L355.98 531.59 L357.49 531.21 L359.01 530.84 L360.53 530.47 L362.05 530.10 L363.58 529.73 L365.11 529.36 L366.64 528.99 L368.18 528.63 L369.73 528.26 L371.28 527.90 L372.83 527.53 L374.39 527.17 L375.95 526.81 L377.51 526.44 L379.08 526.08 L380.66 525.72 L382.24 525.37 L383.82 525.01 L385.41 524.65 L387.00 524.29 L388.60 523.94 L390.20 523.58 L391.80 523.23 L393.41 522.88 L395.03 522.53 L396.64 522.18 L398.27 521.82 L399.89 521.48 L401.52 521.13 L403.16 520.78 L404.80 520.43 L406.44 520.09 L408.09 519.74 L409.74 519.40 L411.40 519.05 L413.06 518.71 L414.73 518.37 L416.40 518.03 L418.07 517.69 L419.75 517.35 L421.43 517.01 L423.12 516.68 L424.81 516.34 L426.51 516.00 L428.21 515.67 L429.91 515.33 L431.62 515.00 L433.33 514.67 L435.05 514.34 L436.77 514.00 L438.50 513.67"/>
<path stroke="#00ff00" stroke-dasharray="11.4 8.03" d="M441.90 513.03 L444.77 512.49 L447.64 511.95 L450.50 511.42 L453.37 510.90 L456.24 510.37 L459.11 509.86 L461.98 509.34 L464.85 508.83 L467.71 508.32 L470.58 507.82 L473.45 507.32 L476.32 506.83 L479.19 506.34 L482.06 505.85 L484.92 505.37 L487.79 504.89 L490.66 504.41 L493.53 503.94 L496.40 503.47 L499.26 503.00 L502.13 502.54 L505.00 502.08 L507.87 501.62 L510.74 501.17 L513.61 500.72 L516.47 500.27 L519.34 499.83 L522.21 499.39 L525.08 498.95 L527.95 498.52 L530.81 498.09 L533.68 497.66 L536.55 497.23 L539.42 496.81 L542.29 496.39 L545.16 495.97 L548.02 495.56 L550.89 495.15 L553.76 494.74 L556.63 494.33 L559.50 493.93 L562.37 493.53 L565.23 493.13 L568.10 492.74 L570.97 492.34 L573.84 491.95 L576.71 491.57 L579.57 491.18 L582.44 490.80 L585.31 490.42 L588.18 490.04 L591.05 489.66 L593.92 489.29 L596.78 488.92 L599.65 488.55 L602.52 488.19 L605.39 487.82 L608.26 487.46 L611.12 487.10 L613.99 486.74 L616.86 486.39 L619.73 486.04 L622.60 485.68 L625.47 485.34 L628.33 484.99 L631.20 484.64 L634.07 484.30 L636.94 483.96 L639.81 483.62 L642.68 483.29 L645.54 482.95 L648.41 482.62 L651.28 482.29 L654.15 481.96 L657.02 481.63 L659.88 481.31 L662.75 480.98 L665.62 480.66 L668.49 480.34 L671.36 480.03 L674.23 479.71 L677.09 479.40 L679.96 479.08 L682.83 478.77 L685.70 478.46 L688.57 478.16 L691.43 477.85 L694.30 477.55 L697.17 477.25 L700.04 476.95 L702.91 476.65 L705.78 476.35 L708.64 476.05 L711.51 475.76 L714.38 475.47 L717.25 475.18 L720.12 474.89 L722.99 474.60 L725.85 474.32 L728.72 474.03 L731.59 473.75 L734.46 473.47 L737.33 473.19 L740.19 472.91 L743.06 472.63 L745.93 472.35 L748.80 472.08 L751.67 471.81 L754.54 471.54 L757.40 471.27 L760.27 471.00 L763.14 470.73 L766.01 470.46 L768.88 470.20 L771.74 469.94 L774.61 469.68 L777.48 469.41 L780.35 469.16 L783.22 468.90"/>
<path stroke="#008080" d="M93.68 724.47 L93.68 724.45 L93.69 724.40 L93.70 724.31 L93.72 724.19 L93.74 724.04 L93.76 723.85 L93.79 723.63 L93.82 723.37 L93.86 723.09 L93.90 722.77 L93.94 722.42 L93.99 722.05 L94.05 721.64 L94.11 721.21 L94.17 720.75 L94.24 720.27 L94.31 719.76 L94.38 719.22 L94.46 718.67 L94.55 718.09 L94.64 717.49 L94.73 716.88 L94.83 716.24 L94.93 715.59 L95.04 714.92 L95.15 714.23 L95.26 713.53 L95.38 712.82 L95.50 712.09 L95.63 711.35 L95.76 710.60 L95.90 709.84 L96.04 709.07 L96.19 708.29 L96.34 707.50 L96.49 706.70 L96.65 705.90 L96.81 705.09 L96.98 704.27 L97.15 703.45 L97.32 702.62 L97.50 701.79 L97.69 700.95 L97.88 700.11 L98.07 699.27 L98.27 698.42 L98.47 697.57 L98.67 696.72 L98.88 695.87 L99.10 695.01 L99.32 694.16 L99.54 693.30 L99.77 692.44 L100.00 691.58 L100.23 690.72 L100.47 689.86 L100.72 689.00 L100.97 688.14 L101.22 687.28 L101.48 686.43 L101.74 685.57 L102.01 684.71 L102.28 683.85 L102.55 683.00 L102.83 682.14 L103.12 681.29 L103.41 680.44 L103.70 679.59 L103.99 678.74 L104.30 677.89 L104.60 677.04 L104.91 676.20 L105.22 675.36 L105.54 674.52 L105.87 673.68 L106.19 672.84 L106.52 672.01 L106.86 671.18 L107.20 670.35 L107.54 669.52 L107.89 668.69 L108.25 667.87 L108.60 667.05 L108.97 666.23 L109.33 665.41 L109.70 664.60 L110.08 663.78 L110.46 662.97 L110.84 662.17 L111.23 661.36 L111.62 660.56 L112.01 659.76 L112.42 658.96 L112.82 658.17 L113.23 657.37 L113.64 656.58 L114.06 655.79 L114.48 655.01 L114.91 654.23 L115.34 653.44 L115.78 652.67 L116.22 651.89 L116.66 651.12 L117.11 650.35 L117.56 649.58 L118.02 648.81 L118.48 648.05 L118.95 647.29 L119.42 646.53 L119.89 645.77 L120.37 645.02 L120.85 644.27 L121.34 643.52 L121.83 642.77 L122.33 642.03 L122.83 641.28 L123.33 640.55 L123.84 639.81 L124.35 639.07 L124.87 638.34 L125.39 637.61 L125.92 636.88 L126.45 636.16 L126.99 635.44 L127.53 634.71 L128.07 634.00 L128.62 633.28 L129.17 632.57 L129.73 631.86 L130.29 631.15 L130.85 630.44 L131.42 629.73 L132.00 629.03 L132.57 628.33 L133.16 627.63 L133.74 626.94 L134.33 626.24 L134.93 625.55 L135.53 624.86 L136.13 624.18 L136.74 623.49 L137.36 622.81 L137.97 622.13 L138.60 621.45 L139.22 620.77 L139.85 620.10 L140.49 619.43 L141.12 618.76 L141.77 618.09 L142.42 617.42 L143.07 616.76 L143.72 616.10 L144.38 615.44 L145.05 614.78 L145.72 614.12 L146.39 613.47 L147.07 612.82 L147.75 612.17 L148.44 611.52 L149.13 610.87 L149.83 610.23 L150.53 609.59 L151.23 608.95 L151.94 608.31 L152.65 607.67 L153.37 607.04 L154.09 606.41 L154.81 605.78 L155.54 605.15 L156.28 604.52 L157.02 603.90 L157.76 603.27 L158.51 602.65 L159.26 602.03 L160.01 601.42 L160.77 600.80 L161.54 600.19 L162.31 599.57 L163.08 598.96 L163.86 598.36 L164.64 597.75 L165.43 597.14 L166.22 596.54 L167.01 595.94 L167.81 595.34 L168.61 594.74 L169.42 594.14 L170.23 593.55 L171.05 592.96 L171.87 592.37 L172.70 591.78 L173.53 591.19 L174.36 590.60 L175.20 590.02 L176.04 589.43 L176.89 588.85 L177.74 588.27 L178.60 587.70 L179.46 587.12 L180.32 586.54 L181.19 585.97 L182.06 585.40 L182.94 584.83 L183.82 584.26 L184.71 583.69 L185.60 583.13 L186.49 582.57 L187.39 582.00 L188.29 581.44 L189.20 580.88 L190.11 580.33 L191.03 579.77 L191.95 579.22 L192.87 578.66 L193.80 578.11 L194.74 577.56 L195.67 577.01 L196.62 576.47 L197.56 575.92 L198.51 575.38 L199.47 574.83 L200.43 574.29 L201.39 573.75 L202.36 573.21 L203.33 572.68 L204.31 572.14 L205.29 571.61 L206.28 571.08 L207.27 570.54 L208.26 570.01 L209.26 569.49 L210.26 568.96 L211.27 568.43 L212.28 567.91 L213.30 567.39 L214.32 566.87 L215.34 566.35 L216.37 565.83 L217.40 565.31 L218.44 564.79 L219.48 564.28 L220.53 563.77 L221.58 563.25 L222.63 562.74 L223.69 562.23 L224.76 561.73 L225.82 561.22 L226.90 560.71 L227.97 560.21 L229.05 559.71 L230.14 559.20 L231.23 558.70 L232.32 558.20 L233.42 557.71 L234.52 557.21 L235.63 556.72 L236.74 556.22 L237.86 555.73 L238.97 555.24 L240.10 554.75 L241.23 554.26 L242.36 553.77 L243.50 553.28 L244.64 552.80 L245.78 552.31 L246.93 551.83 L248.09 551.35 L249.25 550.87 L250.41 550.39 L251.58 549.91 L252.75 549.43 L253.93 548.96 L255.11 548.48 L256.29 548.01 L257.48 547.54 L258.67 547.07 L259.87 546.60 L261.07 546.13 L262.28 545.66 L263.49 545.19 L264.71 544.73 L265.93 544.26 L267.15 543.80 L268.38 543.34 L269.61 542.88 L270.85 542.42 L272.09 541.96 L273.33 541.50 L274.58 541.05 L275.84 540.59 L277.10 540.14 L278.36 539.68 L279.63 539.23 L280.90 538.78 L282.17 538.33 L283.45 537.88 L284.74 537.43 L286.03 536.99 L287.32 536.54 L288.62 536.10 L289.92 535.65 L291.22 535.21 L292.53 534.77 L293.85 534.33 L295.17 533.89 L296.49 533.45 L297.82 533.02 L299.15 532.58 L300.49 532.14 L301.83 531.71 L303.17 531.28 L304.52 530.85 L305.88 530.41 L307.23 529.98 L308.60 529.56 L309.96 529.13 L311.33 528.70 L312.71 528.27 L314.09 527.85 L315.47 527.43 L316.86 527.00 L318.25 526.58 L319.65 526.16 L321.05 525.74 L322.46 525.32 L323.87 524.90 L325.28 524.48 L326.70 524.07 L328.12 523.65 L329.55 523.24 L330.98 522.83 L332.42 522.41 L333.86 522.00 L335.30 521.59 L336.75 521.18 L338.21 520.77 L339.66 520.37 L341.13 519.96 L342.59 519.55 L344.06 519.15 L345.54 518.74 L347.02 518.34 L348.50 517.94 L349.99 517.54 L351.48 517.14 L352.98 516.74 L354.48 516.34 L355.98 515.94 L357.49 515.54 L359.01 515.15 L360.53 514.75 L362.05 514.36 L363.58 513.97 L365.11 513.57 L366.64 513.18 L368.18 512.79 L369.73 512.40 L371.28 512.01 L372.83 511.63 L374.39 511.24 L375.95 510.85 L377.51 510.47 L379.08 510.08 L380.66 509.70 L382.24 509.32 L383.82 508.93 L385.41 508.55 L387.00 508.17 L388.60 507.79 L390.20 507.41 L391.80 507.04 L393.41 506.66 L395.03 506.28 L396.64 505.91 L398.27 505.53 L399.89 505.16 L401.52 504.79 L403.16 504.42 L404.80 504.05 L406.44 503.67 L408.09 503.31 L409.74 502.94 L411.40 502.57 L413.06 502.20 L414.73 501.84 L416.40 501.47 L418.07 501.11 L419.75 500.74 L421.43 500.38 L423.12 500.02 L424.81 499.65 L426.51 499.29 L428.21 498.93 L429.91 498.58 L431.62 498.22 L433.33 497.86 L435.05 497.50 L436.77 497.15 L438.50 496.79"/>
<path stroke="#008080" stroke-dasharray="11.4 8.03" d="M441.90 496.10 L444.77 495.51 L447.64 494.94 L450.50 494.37 L453.37 493.80 L456.24 493.23 L459.11 492.67 L461.98 492.12 L464.85 491.57 L467.71 491.02 L470.58 490.47 L473.45 489.93 L476.32 489.40 L479.19 488.87 L482.06 488.34 L484.92 487.81 L487.79 487.29 L490.66 486.77 L493.53 486.26 L496.40 485.75 L499.26 485.24 L502.13 484.74 L505.00 484.24 L507.87 483.74 L510.74 483.25 L513.61 482.76 L516.47 482.27 L519.34 481.79 L522.21 481.31 L525.08 480.83 L527.95 480.35 L530.81 479.88 L533.68 479.41 L536.55 478.95 L539.42 478.49 L542.29 478.03 L545.16 477.57 L548.02 477.12 L550.89 476.66 L553.76 476.22 L556.63 475.77 L559.50 475.33 L562.37 474.89 L565.23 474.45 L568.10 474.01 L570.97 473.58 L573.84 473.15 L576.71 472.72 L579.57 472.30 L582.44 471.87 L585.31 471.45 L588.18 471.04 L591.05 470.62 L593.92 470.21 L596.78 469.80 L599.65 469.39 L602.52 468.98 L605.39 468.58 L608.26 468.18 L611.12 467.78 L613.99 467.38 L616.86 466.99 L619.73 466.59 L622.60 466.20 L625.47 465.82 L628.33 465.43 L631.20 465.05 L634.07 464.66 L636.94 464.28 L639.81 463.90 L642.68 463.53 L645.54 463.15 L648.41 462.78 L651.28 462.41 L654.15 462.04 L657.02 461.68 L659.88 461.31 L662.75 460.95 L665.62 460.59 L668.49 460.23 L671.36 459.87 L674.23 459.52 L677.09 459.17 L679.96 458.81 L682.83 458.46 L685.70 458.12 L688.57 457.77 L691.43 457.42 L694.30 457.08 L697.17 456.74 L700.04 456.40 L702.91 456.06 L705.78 455.73 L708.64 455.39 L711.51 455.06 L714.38 454.73 L717.25 454.40 L720.12 454.07 L722.99 453.74 L725.85 453.42 L728.72 453.09 L731.59 452.77 L734.46 452.45 L737.33 452.13 L740.19 451.81 L743.06 451.50 L745.93 451.18 L748.80 450.87 L751.67 450.56 L754.54 450.25 L757.40 449.94 L760.27 449.63 L763.14 449.32 L766.01 449.02 L768.88 448.71 L771.74 448.41 L774.61 448.11 L777.48 447.81 L780.35 447.51 L783.22 447.22"/>
<path stroke="#0000ff" d="M93.68 719.20 L93.68 719.18 L93.69 719.13 L93.70 719.04 L93.72 718.92 L93.74 718.76 L93.76 718.57 L93.79 718.35 L93.82 718.10 L93.86 717.81 L93.90 717.49 L93.94 717.14 L93.99 716.76 L94.05 716.35 L94.11 715.91 L94.17 715.44 L94.24 714.95 L94.31 714.44 L94.38 713.90 L94.46 713.33 L94.55 712.75 L94.64 712.14 L94.73 711.51 L94.83 710.86 L94.93 710.20 L95.04 709.52 L95.15 708.82 L95.26 708.10 L95.38 707.37 L95.50 706.63 L95.63 705.87 L95.76 705.10 L95.90 704.32 L96.04 703.53 L96.19 702.73 L96.34 701.92 L96.49 701.10 L96.65 700.27 L96.81 699.44 L96.98 698.59 L97.15 697.75 L97.32 696.89 L97.50 696.03 L97.69 695.17 L97.88 694.30 L98.07 693.43 L98.27 692.55 L98.47 691.67 L98.67 690.79 L98.88 689.90 L99.10 689.02 L99.32 688.13 L99.54 687.24 L99.77 686.34 L100.00 685.45 L100.23 684.56 L100.47 683.66 L100.72 682.77 L100.97 681.87 L101.22 680.97 L101.48 680.08 L101.74 679.18 L102.01 678.29 L102.28 677.39 L102.55 676.50 L102.83 675.61 L103.12 674.71 L103.41 673.82 L103.70 672.93 L103.99 672.05 L104.30 671.16 L104.60 670.27 L104.91 669.39 L105.22 668.51 L105.54 667.63 L105.87 666.75 L106.19 665.87 L106.52 665.00 L106.86 664.12 L107.20 663.25 L107.54 662.38 L107.89 661.52 L108.25 660.65 L108.60 659.79 L108.97 658.93 L109.33 658.07 L109.70 657.22 L110.08 656.36 L110.46 655.51 L110.84 654.66 L111.23 653.82 L111.62 652.97 L112.01 652.13 L112.42 651.29 L112.82 650.46 L113.23 649.62 L113.64 648.79 L114.06 647.96 L114.48 647.14 L114.91 646.31 L115.34 645.49 L115.78 644.67 L116.22 643.86 L116.66 643.04 L117.11 642.23 L117.56 641.42 L118.02 640.62 L118.48 639.81 L118.95 639.01 L119.42 638.21 L119.89 637.42 L120.37 636.62 L120.85 635.83 L121.34 635.04 L121.83 634.26 L122.33 633.48 L122.83 632.69 L123.33 631.92 L123.84 631.14 L124.35 630.37 L124.87 629.60 L125.39 628.83 L125.92 628.06 L126.45 627.30 L126.99 626.54 L127.53 625.78 L128.07 625.02 L128.62 624.27 L129.17 623.52 L129.73 622.77 L130.29 622.02 L130.85 621.28 L131.42 620.53 L132.00 619.79 L132.57 619.06 L133.16 618.32 L133.74 617.59 L134.33 616.86 L134.93 616.13 L135.53 615.41 L136.13 614.68 L136.74 613.96 L137.36 613.24 L137.97 612.53 L138.60 611.81 L139.22 611.10 L139.85 610.39 L140.49 609.68 L141.12 608.98 L141.77 608.27 L142.42 607.57 L143.07 606.87 L143.72 606.18 L144.38 605.48 L145.05 604.79 L145.72 604.10 L146.39 603.41 L147.07 602.73 L147.75 602.04 L148.44 601.36 L149.13 600.68 L149.83 600.00 L150.53 599.33 L151.23 598.66 L151.94 597.98 L152.65 597.31 L153.37 596.65 L154.09 595.98 L154.81 595.32 L155.54 594.66 L156.28 594.00 L157.02 593.34 L157.76 592.69 L158.51 592.03 L159.26 591.38 L160.01 590.73 L160.77 590.08 L161.54 589.44 L162.31 588.79 L163.08 588.15 L163.86 587.51 L164.64 586.87 L165.43 586.24 L166.22 585.60 L167.01 584.97 L167.81 584.34 L168.61 583.71 L169.42 583.08 L170.23 582.46 L171.05 581.83 L171.87 581.21 L172.70 580.59 L173.53 579.97 L174.36 579.36 L175.20 578.74 L176.04 578.13 L176.89 577.52 L177.74 576.91 L178.60 576.30 L179.46 575.70 L180.32 575.09 L181.19 574.49 L182.06 573.89 L182.94 573.29 L183.82 572.69 L184.71 572.09 L185.60 571.50 L186.49 570.91 L187.39 570.32 L188.29 569.73 L189.20 569.14 L190.11 568.55 L191.03 567.97 L191.95 567.39 L192.87 566.80 L193.80 566.22 L194.74 565.65 L195.67 565.07 L196.62 564.49 L197.56 563.92 L198.51 563.35 L199.47 562.78 L200.43 562.21 L201.39 561.64 L202.36 561.08 L203.33 560.51 L204.31 559.95 L205.29 559.39 L206.28 558.83 L207.27 558.27 L208.26 557.71 L209.26 557.16 L210.26 556.60 L211.27 556.05 L212.28 555.50 L213.30 554.95 L214.32 554.40 L215.34 553.85 L216.37 553.31 L217.40 552.76 L218.44 552.22 L219.48 551.68 L220.53 551.14 L221.58 550.60 L222.63 550.06 L223.69 549.53 L224.76 548.99 L225.82 548.46 L226.90 547.93 L227.97 547.40 L229.05 546.87 L230.14 546.34 L231.23 545.81 L232.32 545.29 L233.42 544.76 L234.52 544.24 L235.63 543.72 L236.74 543.20 L237.86 542.68 L238.97 542.16 L240.10 541.65 L241.23 541.13 L242.36 540.62 L243.50 540.11 L244.64 539.60 L245.78 539.09 L246.93 538.58 L248.09 538.07 L249.25 537.57 L250.41 537.06 L251.58 536.56 L252.75 536.06 L253.93 535.55 L255.11 535.05 L256.29 534.56 L257.48 534.06 L258.67 533.56 L259.87 533.07 L261.07 532.57 L262.28 532.08 L263.49 531.59 L264.71 531.10 L265.93 530.61 L267.15 530.12 L268.38 529.63 L269.61 529.15 L270.85 528.66 L272.09 528.18 L273.33 527.70 L274.58 527.22 L275.84 526.74 L277.10 526.26 L278.36 525.78 L279.63 525.30 L280.90 524.83 L282.17 524.35 L283.45 523.88 L284.74 523.41 L286.03 522.94 L287.32 522.47 L288.62 522.00 L289.92 521.53 L291.22 521.06 L292.53 520.60 L293.85 520.13 L295.17 519.67 L296.49 519.20 L297.82 518.74 L299.15 518.28 L300.49 517.82 L301.83 517.36 L303.17 516.91 L304.52 516.45 L305.88 515.99 L307.23 515.54 L308.60 515.09 L309.96 514.63 L311.33 514.18 L312.71 513.73 L314.09 513.28 L315.47 512.83 L316.86 512.39 L318.25 511.94 L319.65 511.50 L321.05 511.05 L322.46 510.61 L323.87 510.16 L325.28 509.72 L326.70 509.28 L328.12 508.84 L329.55 508.40 L330.98 507.97 L332.42 507.53 L333.86 507.09 L335.30 506.66 L336.75 506.23 L338.21 505.79 L339.66 505.36 L341.13 504.93 L342.59 504.50 L344.06 504.07 L345.54 503.64 L347.02 503.21 L348.50 502.79 L349.99 502.36 L351.48 501.94 L352.98 501.51 L354.48 501.09 L355.98 500.67 L357.49 500.25 L359.01 499.83 L360.53 499.41 L362.05 498.99 L363.58 498.57 L365.11 498.16 L366.64 497.74 L368.18 497.33 L369.73 496.91 L371.28 496.50 L372.83 496.09 L374.39 495.68 L375.95 495.27 L377.51 494.86 L379.08 494.45 L380.66 494.04 L382.24 493.63 L383.82 493.23 L385.41 492.82 L387.00 492.42 L388.60 492.01 L390.20 491.61 L391.80 491.21 L393.41 490.81 L395.03 490.40 L396.64 490.01 L398.27 489.61 L399.89 489.21 L401.52 488.81 L403.16 488.41 L404.80 488.02 L406.44 487.62 L408.09 487.23 L409.74 486.84 L411.40 486.44 L413.06 486.05 L414.73 485.66 L416.40 485.27 L418.07 484.88 L419.75 484.49 L421.43 484.11 L423.12 483.72 L424.81 483.33 L426.51 482.95 L428.21 482.56 L429.91 482.18 L431.62 481.80 L433.33 481.41 L435.05 481.03 L436.77 480.65 L438.50 480.27"/>
<path stroke="#0000ff" stroke-dasharray="11.4 8.03" d="M441.90 479.53 L443.71 479.14 L445.52 478.74 L447.33 478.35 L449.14 477.97 L450.95 477.58 L452.76 477.20 L454.57 476.81 L456.38 476.43 L458.19 476.05 L460.00 475.68 L461.81 475.30 L463.62 474.93 L465.43 474.55 L467.24 474.18 L469.05 473.81 L470.86 473.45 L472.67 473.08 L474.48 472.72 L476.29 472.35 L478.10 471.99 L479.91 471.63 L481.72 471.27 L483.53 470.92 L485.34 470.56 L487.15 470.21 L488.96 469.86 L490.77 469.51 L492.58 469.16 L494.39 468.81 L496.20 468.46 L498.01 468.12 L499.82 467.77 L501.63 467.43 L503.44 467.09 L505.25 466.75 L507.06 466.41 L508.87 466.07 L510.68 465.74 L512.49 465.40 L514.30 465.07 L516.11 464.74 L517.92 464.41 L519.73 464.08 L521.54 463.75 L523.35 463.43 L525.16 463.10 L526.97 462.78 L528.78 462.46 L530.59 462.13 L532.40 461.81 L534.21 461.49 L536.02 461.18 L537.83 460.86 L539.64 460.54 L541.45 460.23 L543.26 459.92 L545.07 459.61 L546.88 459.29 L548.69 458.98 L550.51 458.68 L552.32 458.37 L554.13 458.06 L555.94 457.76 L557.75 457.45 L559.56 457.15 L561.37 456.85 L563.18 456.55 L564.99 456.25 L566.80 455.95 L568.61 455.65 L570.42 455.36 L572.23 455.06 L574.04 454.77 L575.85 454.47 L577.66 454.18 L579.47 453.89 L581.28 453.60 L583.09 453.31 L584.90 453.02 L586.71 452.73 L588.52 452.45 L590.33 452.16 L592.14 451.88 L593.95 451.59 L595.76 451.31 L597.57 451.03 L599.38 450.75 L601.19 450.47 L603.00 450.19 L604.81 449.91 L606.62 449.63 L608.43 449.36 L610.24 449.08 L612.05 448.81 L613.86 448.53 L615.67 448.26 L617.48 447.99 L619.29 447.72 L621.10 447.45 L622.91 447.18 L624.72 446.91 L626.53 446.65 L628.34 446.38 L630.15 446.11 L631.96 445.85 L633.77 445.58 L635.58 445.32 L637.39 445.06 L639.20 444.80 L641.01 444.54 L642.82 444.28 L644.63 444.02 L646.44 443.76 L648.25 443.50 L650.06 443.25 L651.87 442.99 L653.68 442.74 L655.49 442.48 L657.30 442.23"/>
<path stroke="#0000ff" stroke-dasharray="11.4 8.03" d="M657.30 442.23 L658.36 442.08 L659.42 441.93 L660.47 441.78 L661.53 441.64 L662.59 441.49 L663.65 441.34 L664.71 441.20 L665.77 441.05 L666.82 440.91 L667.88 440.76 L668.94 440.62 L670.00 440.47 L671.06 440.33 L672.11 440.18 L673.17 440.04 L674.23 439.89 L675.29 439.75 L676.35 439.61 L677.40 439.46 L678.46 439.32 L679.52 439.18 L680.58 439.03 L681.64 438.89 L682.70 438.75 L683.75 438.61 L684.81 438.47 L685.87 438.33 L686.93 438.18 L687.99 438.04 L689.04 437.90 L690.10 437.76 L691.16 437.62 L692.22 437.48 L693.28 437.34 L694.33 437.20 L695.39 437.06 L696.45 436.93 L697.51 436.79 L698.57 436.65 L699.63 436.51 L700.68 436.37 L701.74 436.23 L702.80 436.10 L703.86 435.96 L704.92 435.82 L705.97 435.68 L707.03 435.55 L708.09 435.41 L709.15 435.28 L710.21 435.14 L711.26 435.00 L712.32 434.87 L713.38 434.73 L714.44 434.60 L715.50 434.46 L716.56 434.33 L717.61 434.19 L718.67 434.06 L719.73 433.93 L720.79 433.79 L721.85 433.66 L722.90 433.52 L723.96 433.39 L725.02 433.26 L726.08 433.13 L727.14 432.99 L728.19 432.86 L729.25 432.73 L730.31 432.60 L731.37 432.47 L732.43 432.33 L733.49 432.20 L734.54 432.07 L735.60 431.94 L736.66 431.81 L737.72 431.68 L738.78 431.55 L739.83 431.42 L740.89 431.29 L741.95 431.16 L743.01 431.03 L744.07 430.90 L745.12 430.77 L746.18 430.64 L747.24 430.52 L748.30 430.39 L749.36 430.26 L750.42 430.13 L751.47 430.00 L752.53 429.88 L753.59 429.75 L754.65 429.62 L755.71 429.49 L756.76 429.37 L757.82 429.24 L758.88 429.11 L759.94 428.99 L761.00 428.86 L762.05 428.74 L763.11 428.61 L764.17 428.49 L765.23 428.36 L766.29 428.23 L767.35 428.11 L768.40 427.99 L769.46 427.86 L770.52 427.74 L771.58 427.61 L772.64 427.49 L773.69 427.36 L774.75 427.24 L775.81 427.12 L776.87 426.99 L777.93 426.87 L778.98 426.75 L780.04 426.63 L781.10 426.50 L782.16 426.38 L783.22 426.26"/>
<path stroke="#800080" d="M93.68 746.79 L93.68 746.77 L93.69 746.73 L93.70 746.65 L93.72 746.54 L93.74 746.41 L93.76 746.24 L93.79 746.05 L93.82 745.82 L93.86 745.57 L93.90 745.29 L93.94 744.99 L93.99 744.66 L94.05 744.30 L94.11 743.92 L94.17 743.52 L94.24 743.10 L94.31 742.66 L94.38 742.19 L94.46 741.71 L94.55 741.21 L94.64 740.69 L94.73 740.16 L94.83 739.61 L94.93 739.05 L95.04 738.47 L95.15 737.88 L95.26 737.28 L95.38 736.67 L95.50 736.05 L95.63 735.42 L95.76 734.79 L95.90 734.14 L96.04 733.49 L96.19 732.83 L96.34 732.16 L96.49 731.49 L96.65 730.81 L96.81 730.13 L96.98 729.45 L97.15 728.76 L97.32 728.07 L97.50 727.37 L97.69 726.68 L97.88 725.98 L98.07 725.28 L98.27 724.58 L98.47 723.87 L98.67 723.17 L98.88 722.46 L99.10 721.76 L99.32 721.05 L99.54 720.35 L99.77 719.64 L100.00 718.93 L100.23 718.23 L100.47 717.52 L100.72 716.82 L100.97 716.12 L101.22 715.41 L101.48 714.71 L101.74 714.01 L102.01 713.31 L102.28 712.62 L102.55 711.92 L102.83 711.22 L103.12 710.53 L103.41 709.84 L103.70 709.15 L103.99 708.46 L104.30 707.77 L104.60 707.08 L104.91 706.40 L105.22 705.72 L105.54 705.04 L105.87 704.36 L106.19 703.68 L106.52 703.01 L106.86 702.33 L107.20 701.66 L107.54 700.99 L107.89 700.33 L108.25 699.66 L108.60 699.00 L108.97 698.33 L109.33 697.67 L109.70 697.02 L110.08 696.36 L110.46 695.71 L110.84 695.05 L111.23 694.40 L111.62 693.76 L112.01 693.11 L112.42 692.47 L112.82 691.82 L113.23 691.18 L113.64 690.54 L114.06 689.91 L114.48 689.27 L114.91 688.64 L115.34 688.01 L115.78 687.38 L116.22 686.75 L116.66 686.13 L117.11 685.51 L117.56 684.88 L118.02 684.26 L118.48 683.65 L118.95 683.03 L119.42 682.42 L119.89 681.80 L120.37 681.19 L120.85 680.59 L121.34 679.98 L121.83 679.37 L122.33 678.77 L122.83 678.17 L123.33 677.57 L123.84 676.97 L124.35 676.38 L124.87 675.78 L125.39 675.19 L125.92 674.60 L126.45 674.01 L126.99 673.42 L127.53 672.84 L128.07 672.25 L128.62 671.67 L129.17 671.09 L129.73 670.51 L130.29 669.94 L130.85 669.36 L131.42 668.79 L132.00 668.21 L132.57 667.64 L133.16 667.07 L133.74 666.51 L134.33 665.94 L134.93 665.38 L135.53 664.82 L136.13 664.25 L136.74 663.70 L137.36 663.14 L137.97 662.58 L138.60 662.03 L139.22 661.47 L139.85 660.92 L140.49 660.37 L141.12 659.82 L141.77 659.28 L142.42 658.73 L143.07 658.19 L143.72 657.65 L144.38 657.11 L145.05 656.57 L145.72 656.03 L146.39 655.49 L147.07 654.96 L147.75 654.42 L148.44 653.89 L149.13 653.36 L149.83 652.83 L150.53 652.31 L151.23 651.78 L151.94 651.25 L152.65 650.73 L153.37 650.21 L154.09 649.69 L154.81 649.17 L155.54 648.65 L156.28 648.14 L157.02 647.62 L157.76 647.11 L158.51 646.60 L159.26 646.09 L160.01 645.58 L160.77 645.07 L161.54 644.56 L162.31 644.06 L163.08 643.56 L163.86 643.05 L164.64 642.55 L165.43 642.05 L166.22 641.55 L167.01 641.06 L167.81 640.56 L168.61 640.07 L169.42 639.57 L170.23 639.08 L171.05 638.59 L171.87 638.10 L172.70 637.62 L173.53 637.13 L174.36 636.64 L175.20 636.16 L176.04 635.68 L176.89 635.20 L177.74 634.72 L178.60 634.24 L179.46 633.76 L180.32 633.28 L181.19 632.81 L182.06 632.34 L182.94 631.86 L183.82 631.39 L184.71 630.92 L185.60 630.45 L186.49 629.99 L187.39 629.52 L188.29 629.05 L189.20 628.59 L190.11 628.13 L191.03 627.67 L191.95 627.21 L192.87 626.75 L193.80 626.29 L194.74 625.83 L195.67 625.38 L196.62 624.93 L197.56 624.47 L198.51 624.02 L199.47 623.57 L200.43 623.12 L201.39 622.67 L202.36 622.23 L203.33 621.78 L204.31 621.34 L205.29 620.89 L206.28 620.45 L207.27 620.01 L208.26 619.57 L209.26 619.13 L210.26 618.69 L211.27 618.26 L212.28 617.82 L213.30 617.39 L214.32 616.95 L215.34 616.52 L216.37 616.09 L217.40 615.66 L218.44 615.23 L219.48 614.81 L220.53 614.38 L221.58 613.96 L222.63 613.53 L223.69 613.11 L224.76 612.69 L225.82 612.27 L226.90 611.85 L227.97 611.43 L229.05 611.01 L230.14 610.60 L231.23 610.18 L232.32 609.77 L233.42 609.35 L234.52 608.94 L235.63 608.53 L236.74 608.12 L237.86 607.71 L238.97 607.31 L240.10 606.90 L241.23 606.49 L242.36 606.09 L243.50 605.69 L244.64 605.28 L245.78 604.88 L246.93 604.48 L248.09 604.09 L249.25 603.69 L250.41 603.29 L251.58 602.89 L252.75 602.50 L253.93 602.11 L255.11 601.71 L256.29 601.32 L257.48 600.93 L258.67 600.54 L259.87 600.15 L261.07 599.77 L262.28 599.38 L263.49 599.00 L264.71 598.61 L265.93 598.23 L267.15 597.85 L268.38 597.46 L269.61 597.08 L270.85 596.71 L272.09 596.33 L273.33 595.95 L274.58 595.57 L275.84 595.20 L277.10 594.82 L278.36 594.45 L279.63 594.08 L280.90 593.71 L282.17 593.34 L283.45 592.97 L284.74 592.60 L286.03 592.23 L287.32 591.87 L288.62 591.50 L289.92 591.14 L291.22 590.78 L292.53 590.41 L293.85 590.05 L295.17 589.69 L296.49 589.33 L297.82 588.97 L299.15 588.62 L300.49 588.26 L301.83 587.91 L303.17 587.55 L304.52 587.20 L305.88 586.85 L307.23 586.49 L308.60 586.14 L309.96 585.79 L311.33 585.45 L312.71 585.10 L314.09 584.75 L315.47 584.41 L316.86 584.06 L318.25 583.72 L319.65 583.37 L321.05 583.03 L322.46 582.69 L323.87 582.35 L325.28 582.01 L326.70 581.67 L328.12 581.34 L329.55 581.00 L330.98 580.66 L332.42 580.33 L333.86 580.00 L335.30 579.66 L336.75 579.33 L338.21 579.00 L339.66 578.67 L341.13 578.34 L342.59 578.01 L344.06 577.69 L345.54 577.36 L347.02 577.03 L348.50 576.71 L349.99 576.39 L351.48 576.06 L352.98 575.74 L354.48 575.42 L355.98 575.10 L357.49 574.78 L359.01 574.46 L360.53 574.15 L362.05 573.83 L363.58 573.51 L365.11 573.20 L366.64 572.89 L368.18 572.57 L369.73 572.26 L371.28 571.95 L372.83 571.64 L374.39 571.33 L375.95 571.02 L377.51 570.72 L379.08 570.41 L380.66 570.10 L382.24 569.80 L383.82 569.49 L385.41 569.19 L387.00 568.89 L388.60 568.59 L390.20 568.29 L391.80 567.99 L393.41 567.69 L395.03 567.39 L396.64 567.09 L398.27 566.80 L399.89 566.50 L401.52 566.21 L403.16 565.91 L404.80 565.62 L406.44 565.33 L408.09 565.04 L409.74 564.74 L411.40 564.46 L413.06 564.17 L414.73 563.88 L416.40 563.59 L418.07 563.31 L419.75 563.02 L421.43 562.74 L423.12 562.45 L424.81 562.17 L426.51 561.89 L428.21 561.61 L429.91 561.32 L431.62 561.05 L433.33 560.77 L435.05 560.49 L436.77 560.21 L438.50 559.93"/>
<path stroke="#800080" stroke-dasharray="11.4 8.03" d="M441.90 559.39 L444.77 558.94 L447.64 558.50 L450.50 558.05 L453.37 557.61 L456.24 557.18 L459.11 556.75 L461.98 556.32 L464.85 555.90 L467.71 555.48 L470.58 555.06 L473.45 554.65 L476.32 554.24 L479.19 553.83 L482.06 553.43 L484.92 553.03 L487.79 552.63 L490.66 552.24 L493.53 551.85 L496.40 551.46 L499.26 551.08 L502.13 550.70 L505.00 550.32 L507.87 549.95 L510.74 549.58 L513.61 549.21 L516.47 548.85 L519.34 548.48 L522.21 548.13 L525.08 547.77 L527.95 547.42 L530.81 547.07 L533.68 546.72 L536.55 546.37 L539.42 546.03 L542.29 545.69 L545.16 545.35 L548.02 545.02 L550.89 544.69 L553.76 544.36 L556.63 544.03 L559.50 543.71 L562.37 543.38 L565.23 543.07 L568.10 542.75 L570.97 542.43 L573.84 542.12 L576.71 541.81 L579.57 541.50 L582.44 541.20 L585.31 540.90 L588.18 540.59 L591.05 540.30 L593.92 540.00 L596.78 539.71 L599.65 539.41 L602.52 539.12 L605.39 538.84 L608.26 538.55 L611.12 538.27 L613.99 537.98 L616.86 537.70 L619.73 537.43 L622.60 537.15 L625.47 536.88 L628.33 536.61 L631.20 536.34 L634.07 536.07 L636.94 535.80 L639.81 535.54 L642.68 535.28 L645.54 535.02 L648.41 534.76 L651.28 534.50 L654.15 534.25 L657.02 533.99 L659.88 533.74 L662.75 533.49 L665.62 533.24 L668.49 533.00 L671.36 532.75 L674.23 532.51 L677.09 532.27 L679.96 532.03 L682.83 531.79 L685.70 531.56 L688.57 531.32 L691.43 531.09 L694.30 530.86 L697.17 530.63 L700.04 530.40 L702.91 530.17 L705.78 529.95 L708.64 529.72 L711.51 529.50 L714.38 529.28 L717.25 529.06 L720.12 528.84 L722.99 528.63 L725.85 528.41 L728.72 528.20 L731.59 527.99 L734.46 527.78 L737.33 527.57 L740.19 527.36 L743.06 527.15 L745.93 526.95 L748.80 526.74 L751.67 526.54 L754.54 526.34 L757.40 526.14 L760.27 525.94 L763.14 525.74 L766.01 525.55 L768.88 525.35 L771.74 525.16 L774.61 524.97 L777.48 524.78 L780.35 524.59 L783.22 524.40"/>
</g>
<g class="h" fill="#000">
<text class="h" transform="translate(80.10 55.00) scale(1 1.070)" text-anchor="end" fill="#000">3</text>
<text class="h" transform="translate(74.80 124.60) scale(1 1.070)" text-anchor="end" fill="#000">2.5</text>
<text class="h" transform="translate(80.10 194.20) scale(1 1.070)" text-anchor="end" fill="#000">2</text>
<text class="h" transform="translate(74.80 263.80) scale(1 1.070)" text-anchor="end" fill="#000">1.5</text>
<text class="h" transform="translate(80.10 333.40) scale(1 1.070)" text-anchor="end" fill="#000">1</text>
<text class="h" transform="translate(74.80 403.00) scale(1 1.070)" text-anchor="end" fill="#000">0.5</text>
<text class="h" transform="translate(74.80 472.60) scale(1 1.070)" text-anchor="end" fill="#000">2.5</text>
<text class="h" transform="translate(80.10 542.20) scale(1 1.070)" text-anchor="end" fill="#000">2</text>
<text class="h" transform="translate(74.80 611.80) scale(1 1.070)" text-anchor="end" fill="#000">1.5</text>
<text class="h" transform="translate(80.10 681.40) scale(1 1.070)" text-anchor="end" fill="#000">1</text>
<text class="h" transform="translate(74.80 750.90) scale(1 1.070)" text-anchor="end" fill="#000">0.5</text>
<text class="h" transform="translate(90.20 771.00) scale(1 1.070)" text-anchor="middle" fill="#000">0</text>
<text class="h" transform="translate(264.32 771.00) scale(1 1.070)" text-anchor="middle" fill="#000">5</text>
<text class="h" transform="translate(438.45 771.00) scale(1 1.070)" text-anchor="middle" fill="#000">10</text>
<text class="h" transform="translate(612.58 771.00) scale(1 1.070)" text-anchor="middle" fill="#000">15</text>
<text class="h" transform="translate(786.70 771.00) scale(1 1.070)" text-anchor="middle" fill="#000">20</text>
</g>
<g fill="#000" stroke="#000" stroke-linejoin="miter" stroke-miterlimit="3" style="font-family:'Liberation Serif',serif;font-weight:bold;font-size:19.00px"><text transform="translate(394.07 794.58) scale(0.681 0.961)" stroke-width="1.29">M</text><text transform="translate(407.52 794.86) scale(0.851 0.985)" stroke-width="0.68">a</text><text transform="translate(416.20 795.20) scale(1.306 1.060)" stroke="none">s</text><text transform="translate(425.95 795.20) scale(1.385 1.060)" stroke="none">s</text><text transform="translate(446.15 795.04) scale(1.022 1.036)" stroke-width="0.31">(</text><text transform="translate(454.39 794.53) scale(0.656 0.953)" stroke-width="1.40">M</text><text transform="translate(477.51 795.02) scale(0.995 1.033)" stroke-width="0.35">)</text></g>
<g fill="none" stroke="#000" stroke-width="1.70"><circle cx="471.80" cy="796.40" r="3.75"/><path d="M468.05 796.40H475.55M471.80 792.65V800.15"/></g>
<g transform="translate(32.0 0) rotate(-90)">
<g fill="#000" stroke="#000" stroke-linejoin="miter" stroke-miterlimit="3" style="font-family:'Liberation Serif',serif;font-weight:bold;font-size:19.00px"><text transform="translate(-489.46 -0.58) scale(0.698 0.967)" stroke-width="1.20">R</text><text transform="translate(-478.10 -0.17) scale(1.024 1.021)" stroke-width="0.34">a</text><text transform="translate(-467.36 -0.21) scale(0.985 1.028)" stroke-width="0.41">d</text><text transform="translate(-454.46 -0.27) scale(0.742 1.018)" stroke-width="0.54">i</text><text transform="translate(-448.74 -0.20) scale(0.993 1.014)" stroke-width="0.40">u</text><text transform="translate(-437.41 0.00) scale(1.330 1.060)" stroke="none">s</text><text transform="translate(-417.87 -0.20) scale(0.968 1.030)" stroke-width="0.39">(</text><text transform="translate(-409.64 -0.61) scale(0.681 0.963)" stroke-width="1.26">R</text><text transform="translate(-388.15 -0.27) scale(0.886 1.018)" stroke-width="0.54">)</text></g>
</g>
<g fill="none" stroke="#000" stroke-width="1.70"><circle cx="33.20" cy="394.00" r="3.75"/><path d="M29.45 394.00H36.95M33.20 390.25V397.75"/></g>
<g fill="none" stroke-width="2">
<path stroke="#ff0000" d="M125.4 79.4H159.8"/>
<path stroke="#808000" d="M125.4 104.5H159.8"/>
<path stroke="#00ff00" d="M125.4 129.5H159.8"/>
<path stroke="#008080" d="M125.4 154.6H159.8"/>
<path stroke="#0000ff" d="M125.4 179.6H159.8"/>
<path stroke="#800080" d="M125.4 204.7H159.8"/>
</g>
<g fill="#ff0000" stroke="#ff0000" stroke-linejoin="miter" stroke-miterlimit="3" style="font-family:'Liberation Serif',serif;font-weight:bold;font-size:19.00px"><text transform="translate(178.68 79.86) scale(0.668 0.957)" stroke-width="1.34">M</text><text transform="translate(191.40 80.26) scale(0.947 1.010)" stroke-width="0.48">g</text><text transform="translate(201.26 80.29) scale(0.983 1.026)" stroke-width="0.41">S</text><text transform="translate(212.07 80.35) scale(1.025 1.037)" stroke-width="0.30">i</text><text transform="translate(218.08 80.20) scale(0.902 1.012)" stroke-width="0.60">O</text><text transform="translate(248.07 80.28) scale(0.940 1.026)" stroke-width="0.44">(</text><text transform="translate(255.48 79.99) scale(0.739 0.978)" stroke-width="1.05">V</text><text transform="translate(266.86 80.28) scale(0.938 1.027)" stroke-width="0.43">i</text><text transform="translate(272.74 80.30) scale(0.993 1.015)" stroke-width="0.40">n</text><text transform="translate(283.60 80.50) scale(1.317 1.060)" stroke="none">e</text><text transform="translate(295.08 80.49) scale(1.258 1.058)" stroke-width="0.02">t</text><text transform="translate(303.75 80.36) scale(1.049 1.039)" stroke-width="0.27">)</text></g>
<g fill="#ff0000" stroke="#ff0000" stroke-linejoin="miter" stroke-miterlimit="3" style="font-family:'Liberation Serif',serif;font-weight:bold;font-size:12.60px"><text transform="translate(231.10 85.62) scale(1.134 1.040)" stroke-width="0.16">3</text></g>
<text class="h" transform="translate(177.30 105.06) scale(1 1.070)" text-anchor="start" fill="#808000">80% CMF</text>
<text class="h" transform="translate(177.30 130.12) scale(1 1.070)" text-anchor="start" fill="#00ff00">60% CMF</text>
<text class="h" transform="translate(177.30 155.18) scale(1 1.070)" text-anchor="start" fill="#008080">40% CMF</text>
<text class="h" transform="translate(177.30 180.24) scale(1 1.070)" text-anchor="start" fill="#0000ff">20% CMF</text>
<text class="h" transform="translate(177.30 205.30) scale(1 1.070)" text-anchor="start" fill="#800080">Iron (Vinet)</text>
<g fill="none" stroke-width="2">
<path stroke="#ff0000" d="M438.2 588.4H473.0"/>
<path stroke="#808000" d="M438.2 613.4H473.0"/>
<path stroke="#00ff00" d="M438.2 638.4H473.0"/>
<path stroke="#008080" d="M438.2 663.4H473.0"/>
<path stroke="#0000ff" d="M438.2 688.4H473.0"/>
<path stroke="#800080" d="M438.2 713.4H473.0"/>
</g>
<g fill="#ff0000" stroke="#ff0000" stroke-linejoin="miter" stroke-miterlimit="3" style="font-family:'Liberation Serif',serif;font-weight:bold;font-size:19.00px"><text transform="translate(492.28 588.87) scale(0.890 0.998)" stroke-width="0.27">P</text><text transform="translate(503.72 588.94) scale(0.982 1.007)" stroke-width="0.11">u</text><text transform="translate(514.82 588.99) scale(1.049 1.018)" stroke-width="0.02">r</text><text transform="translate(524.13 589.00) scale(1.262 1.020)" stroke="none">e</text><text transform="translate(545.01 588.87) scale(0.878 0.999)" stroke-width="0.27">I</text><text transform="translate(552.21 589.00) scale(1.135 1.020)" stroke="none">c</text><text transform="translate(562.25 589.00) scale(1.083 1.020)" stroke="none">e</text><text transform="translate(581.52 588.70) scale(0.740 0.971)" stroke-width="0.62">V</text><text transform="translate(593.61 588.31) scale(0.486 0.910)" stroke-width="1.51">I</text><text transform="translate(599.01 588.31) scale(0.486 0.910)" stroke-width="1.51">I</text><text transform="translate(612.99 589.00) scale(1.148 1.020)" stroke="none">(</text><text transform="translate(621.28 588.76) scale(0.791 0.981)" stroke-width="0.49">V</text><text transform="translate(633.04 588.84) scale(0.836 0.996)" stroke-width="0.32">i</text><text transform="translate(638.19 588.95) scale(0.993 1.009)" stroke-width="0.10">n</text><text transform="translate(649.34 589.00) scale(1.248 1.020)" stroke="none">e</text><text transform="translate(660.39 589.00) scale(1.179 1.020)" stroke="none">t</text><text transform="translate(669.36 589.00) scale(1.127 1.020)" stroke="none">)</text></g>
<g fill="#808000" stroke="#808000" stroke-linejoin="miter" stroke-miterlimit="3" style="font-family:'Liberation Serif',serif;font-weight:bold;font-size:19.00px"><text transform="translate(492.29 613.82) scale(0.833 0.999)" stroke-width="0.76">E</text><text transform="translate(503.53 613.94) scale(0.920 1.001)" stroke-width="0.53">a</text><text transform="translate(513.45 613.91) scale(0.889 0.996)" stroke-width="0.58">r</text><text transform="translate(521.82 614.10) scale(1.109 1.041)" stroke-width="0.20">t</text><text transform="translate(529.86 614.14) scale(1.179 1.050)" stroke-width="0.12">h</text><text transform="translate(559.61 613.76) scale(0.730 0.993)" stroke-width="0.90">l</text><text transform="translate(565.01 613.95) scale(0.807 1.022)" stroke-width="0.50">i</text><text transform="translate(570.36 614.00) scale(1.005 1.030)" stroke-width="0.38">k</text><text transform="translate(581.96 614.14) scale(1.174 1.046)" stroke-width="0.12">e</text></g>
<rect x="545.2" y="607.70" width="10.2" height="2.3" fill="#808000"/>
<g fill="#808000" stroke="#808000" stroke-linejoin="miter" stroke-miterlimit="3" style="font-family:'Liberation Serif',serif;font-weight:bold;font-size:19.00px"><text transform="translate(602.60 613.86) scale(0.863 0.982)" stroke-width="0.69">w</text><text transform="translate(615.70 613.95) scale(0.829 1.023)" stroke-width="0.48">i</text><text transform="translate(621.22 614.02) scale(1.002 1.026)" stroke-width="0.35">t</text><text transform="translate(628.52 614.10) scale(1.131 1.046)" stroke-width="0.18">h</text></g>
<g fill="#808000" stroke="#808000" stroke-linejoin="miter" stroke-miterlimit="3" style="font-family:'Liberation Serif',serif;font-weight:bold;font-size:19.00px"><text transform="translate(650.25 614.00) scale(1.117 1.020)" stroke="none">8</text><text transform="translate(661.03 614.00) scale(1.130 1.020)" stroke="none">0</text><text transform="translate(671.10 613.76) scale(0.793 0.982)" stroke-width="0.49">%</text><text transform="translate(696.02 613.83) scale(0.856 0.992)" stroke-width="0.35">H</text><text transform="translate(716.24 613.66) scale(0.712 0.966)" stroke-width="0.70">O</text></g>
<g fill="#808000" stroke="#808000" stroke-linejoin="miter" stroke-miterlimit="3" style="font-family:'Liberation Serif',serif;font-weight:bold;font-size:12.60px"><text transform="translate(709.43 618.78) scale(1.023 1.014)" stroke-width="0.05">2</text></g>
<g fill="#00ff00" stroke="#00ff00" stroke-linejoin="miter" stroke-miterlimit="3" style="font-family:'Liberation Serif',serif;font-weight:bold;font-size:19.00px"><text transform="translate(492.29 638.82) scale(0.833 0.999)" stroke-width="0.76">E</text><text transform="translate(503.53 638.94) scale(0.920 1.001)" stroke-width="0.53">a</text><text transform="translate(513.45 638.91) scale(0.889 0.996)" stroke-width="0.58">r</text><text transform="translate(521.82 639.10) scale(1.109 1.041)" stroke-width="0.20">t</text><text transform="translate(529.86 639.14) scale(1.179 1.050)" stroke-width="0.12">h</text><text transform="translate(559.61 638.76) scale(0.730 0.993)" stroke-width="0.90">l</text><text transform="translate(565.01 638.95) scale(0.807 1.022)" stroke-width="0.50">i</text><text transform="translate(570.36 639.00) scale(1.005 1.030)" stroke-width="0.38">k</text><text transform="translate(581.96 639.14) scale(1.174 1.046)" stroke-width="0.12">e</text></g>
<rect x="545.2" y="632.70" width="10.2" height="2.3" fill="#00ff00"/>
<g fill="#00ff00" stroke="#00ff00" stroke-linejoin="miter" stroke-miterlimit="3" style="font-family:'Liberation Serif',serif;font-weight:bold;font-size:19.00px"><text transform="translate(602.60 638.86) scale(0.863 0.982)" stroke-width="0.69">w</text><text transform="translate(615.70 638.95) scale(0.829 1.023)" stroke-width="0.48">i</text><text transform="translate(621.22 639.02) scale(1.002 1.026)" stroke-width="0.35">t</text><text transform="translate(628.52 639.10) scale(1.131 1.046)" stroke-width="0.18">h</text></g>
<g fill="#00ff00" stroke="#00ff00" stroke-linejoin="miter" stroke-miterlimit="3" style="font-family:'Liberation Serif',serif;font-weight:bold;font-size:19.00px"><text transform="translate(650.23 639.00) scale(1.109 1.020)" stroke="none">6</text><text transform="translate(661.03 639.00) scale(1.130 1.020)" stroke="none">0</text><text transform="translate(671.10 638.76) scale(0.793 0.982)" stroke-width="0.49">%</text><text transform="translate(696.02 638.83) scale(0.856 0.992)" stroke-width="0.35">H</text><text transform="translate(716.24 638.66) scale(0.712 0.966)" stroke-width="0.70">O</text></g>
<g fill="#00ff00" stroke="#00ff00" stroke-linejoin="miter" stroke-miterlimit="3" style="font-family:'Liberation Serif',serif;font-weight:bold;font-size:12.60px"><text transform="translate(709.43 643.78) scale(1.023 1.014)" stroke-width="0.05">2</text></g>
<g fill="#008080" stroke="#008080" stroke-linejoin="miter" stroke-miterlimit="3" style="font-family:'Liberation Serif',serif;font-weight:bold;font-size:19.00px"><text transform="translate(492.29 663.82) scale(0.833 0.999)" stroke-width="0.76">E</text><text transform="translate(503.53 663.94) scale(0.920 1.001)" stroke-width="0.53">a</text><text transform="translate(513.45 663.91) scale(0.889 0.996)" stroke-width="0.58">r</text><text transform="translate(521.82 664.10) scale(1.109 1.041)" stroke-width="0.20">t</text><text transform="translate(529.86 664.14) scale(1.179 1.050)" stroke-width="0.12">h</text><text transform="translate(559.61 663.76) scale(0.730 0.993)" stroke-width="0.90">l</text><text transform="translate(565.01 663.95) scale(0.807 1.022)" stroke-width="0.50">i</text><text transform="translate(570.36 664.00) scale(1.005 1.030)" stroke-width="0.38">k</text><text transform="translate(581.96 664.14) scale(1.174 1.046)" stroke-width="0.12">e</text></g>
<rect x="545.2" y="657.70" width="10.2" height="2.3" fill="#008080"/>
<g fill="#008080" stroke="#008080" stroke-linejoin="miter" stroke-miterlimit="3" style="font-family:'Liberation Serif',serif;font-weight:bold;font-size:19.00px"><text transform="translate(602.60 663.86) scale(0.863 0.982)" stroke-width="0.69">w</text><text transform="translate(615.70 663.95) scale(0.829 1.023)" stroke-width="0.48">i</text><text transform="translate(621.22 664.02) scale(1.002 1.026)" stroke-width="0.35">t</text><text transform="translate(628.52 664.10) scale(1.131 1.046)" stroke-width="0.18">h</text></g>
<g fill="#008080" stroke="#008080" stroke-linejoin="miter" stroke-miterlimit="3" style="font-family:'Liberation Serif',serif;font-weight:bold;font-size:19.00px"><text transform="translate(650.70 663.98) scale(1.030 1.017)" stroke-width="0.04">4</text><text transform="translate(661.03 664.00) scale(1.130 1.020)" stroke="none">0</text><text transform="translate(671.10 663.76) scale(0.793 0.982)" stroke-width="0.49">%</text><text transform="translate(696.02 663.83) scale(0.856 0.992)" stroke-width="0.35">H</text><text transform="translate(716.24 663.66) scale(0.712 0.966)" stroke-width="0.70">O</text></g>
<g fill="#008080" stroke="#008080" stroke-linejoin="miter" stroke-miterlimit="3" style="font-family:'Liberation Serif',serif;font-weight:bold;font-size:12.60px"><text transform="translate(709.43 668.78) scale(1.023 1.014)" stroke-width="0.05">2</text></g>
<g fill="#0000ff" stroke="#0000ff" stroke-linejoin="miter" stroke-miterlimit="3" style="font-family:'Liberation Serif',serif;font-weight:bold;font-size:19.00px"><text transform="translate(492.29 688.82) scale(0.833 0.999)" stroke-width="0.76">E</text><text transform="translate(503.53 688.94) scale(0.920 1.001)" stroke-width="0.53">a</text><text transform="translate(513.45 688.91) scale(0.889 0.996)" stroke-width="0.58">r</text><text transform="translate(521.82 689.10) scale(1.109 1.041)" stroke-width="0.20">t</text><text transform="translate(529.86 689.14) scale(1.179 1.050)" stroke-width="0.12">h</text><text transform="translate(559.61 688.76) scale(0.730 0.993)" stroke-width="0.90">l</text><text transform="translate(565.01 688.95) scale(0.807 1.022)" stroke-width="0.50">i</text><text transform="translate(570.36 689.00) scale(1.005 1.030)" stroke-width="0.38">k</text><text transform="translate(581.96 689.14) scale(1.174 1.046)" stroke-width="0.12">e</text></g>
<rect x="545.2" y="682.70" width="10.2" height="2.3" fill="#0000ff"/>
<g fill="#0000ff" stroke="#0000ff" stroke-linejoin="miter" stroke-miterlimit="3" style="font-family:'Liberation Serif',serif;font-weight:bold;font-size:19.00px"><text transform="translate(602.60 688.86) scale(0.863 0.982)" stroke-width="0.69">w</text><text transform="translate(615.70 688.95) scale(0.829 1.023)" stroke-width="0.48">i</text><text transform="translate(621.22 689.02) scale(1.002 1.026)" stroke-width="0.35">t</text><text transform="translate(628.52 689.10) scale(1.131 1.046)" stroke-width="0.18">h</text></g>
<g fill="#0000ff" stroke="#0000ff" stroke-linejoin="miter" stroke-miterlimit="3" style="font-family:'Liberation Serif',serif;font-weight:bold;font-size:19.00px"><text transform="translate(650.02 689.00) scale(1.167 1.020)" stroke="none">2</text><text transform="translate(661.03 689.00) scale(1.130 1.020)" stroke="none">0</text><text transform="translate(671.10 688.76) scale(0.793 0.982)" stroke-width="0.49">%</text><text transform="translate(696.02 688.83) scale(0.856 0.992)" stroke-width="0.35">H</text><text transform="translate(716.24 688.66) scale(0.712 0.966)" stroke-width="0.70">O</text></g>
<g fill="#0000ff" stroke="#0000ff" stroke-linejoin="miter" stroke-miterlimit="3" style="font-family:'Liberation Serif',serif;font-weight:bold;font-size:12.60px"><text transform="translate(709.43 693.78) scale(1.023 1.014)" stroke-width="0.05">2</text></g>
<g fill="#800080" stroke="#800080" stroke-linejoin="miter" stroke-miterlimit="3" style="font-family:'Liberation Serif',serif;font-weight:bold;font-size:19.00px"><text transform="translate(492.29 713.82) scale(0.833 0.999)" stroke-width="0.76">E</text><text transform="translate(503.53 713.94) scale(0.920 1.001)" stroke-width="0.53">a</text><text transform="translate(513.45 713.91) scale(0.889 0.996)" stroke-width="0.58">r</text><text transform="translate(521.82 714.10) scale(1.109 1.041)" stroke-width="0.20">t</text><text transform="translate(529.86 714.14) scale(1.179 1.050)" stroke-width="0.12">h</text><text transform="translate(559.61 713.76) scale(0.730 0.993)" stroke-width="0.90">l</text><text transform="translate(565.01 713.95) scale(0.807 1.022)" stroke-width="0.50">i</text><text transform="translate(570.36 714.00) scale(1.005 1.030)" stroke-width="0.38">k</text><text transform="translate(581.96 714.14) scale(1.174 1.046)" stroke-width="0.12">e</text></g>
<rect x="545.2" y="707.70" width="10.2" height="2.3" fill="#800080"/>
</svg></body></html>
